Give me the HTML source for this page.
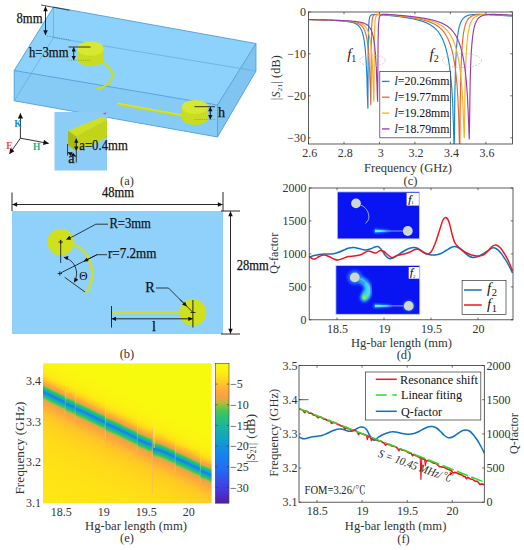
<!DOCTYPE html>
<html lang="en"><head><meta charset="utf-8"><title>Figure</title>
<style>
html,body{margin:0;padding:0;background:#fff;}
body{width:524px;height:550px;overflow:hidden;}
svg{display:block;}
text{font-family:"Liberation Serif","Noto Serif CJK SC",serif;fill:#222;}
.tk{font-size:12px;fill:#333;}
.ax{font-size:12.5px;fill:#333;}
.cap{font-size:12.5px;fill:#333;}
.dim{font-size:14.2px;fill:#111;stroke:#111;stroke-width:0.25px;}
.it{font-style:italic;}
</style></head><body>
<svg width="524" height="550" viewBox="0 0 524 550">
<defs>
<marker id="ah" viewBox="0 0 10 10" refX="9.5" refY="5" markerWidth="7" markerHeight="5" orient="auto-start-reverse" markerUnits="userSpaceOnUse"><path d="M0,0.5 L10,5 L0,9.5 z" fill="#111"/></marker>
<marker id="ahs" viewBox="0 0 10 10" refX="9.5" refY="5" markerWidth="5" markerHeight="4.4" orient="auto-start-reverse" markerUnits="userSpaceOnUse"><path d="M0,0 L10,5 L0,10 z" fill="#111"/></marker>
<marker id="ahb" viewBox="0 0 10 10" refX="9.5" refY="5" markerWidth="8" markerHeight="5.4" orient="auto-start-reverse" markerUnits="userSpaceOnUse"><path d="M0,0 L10,5 L0,10 z" fill="#111"/></marker>
</defs>
<rect x="0" y="0" width="524" height="550" fill="#ffffff"/>
<g id="panel-a">
<polygon points="53.5,7.0 256.0,43.5 256.0,71.0 217.5,137.0 14.2,100.8 14.2,70.5" fill="#86caf6"/>
<polygon points="53.5,7.0 256.0,43.5 217.5,105.0 14.2,70.5" fill="#8dd2fc"/>
<polygon points="256.0,43.5 256.0,71.0 217.5,137.0 217.5,105.0" fill="#80c4f1"/>
<polygon points="14.2,70.5 217.5,105.0 217.5,137.0 14.2,100.8" fill="#86caf6"/>
<line x1="53.5" y1="7" x2="256" y2="43.5" stroke="#4d9bd6" stroke-width="0.8" />
<line x1="256" y1="43.5" x2="217.5" y2="105" stroke="#4d9bd6" stroke-width="0.8" />
<line x1="217.5" y1="105" x2="14.2" y2="70.5" stroke="#4d9bd6" stroke-width="0.8" />
<line x1="14.2" y1="70.5" x2="53.5" y2="7" stroke="#4d9bd6" stroke-width="0.8" />
<line x1="14.2" y1="70.5" x2="14.2" y2="100.8" stroke="#4d9bd6" stroke-width="0.8" />
<line x1="217.5" y1="105" x2="217.5" y2="137" stroke="#4d9bd6" stroke-width="0.8" />
<line x1="256" y1="43.5" x2="256" y2="71" stroke="#4d9bd6" stroke-width="0.8" />
<line x1="14.2" y1="100.8" x2="217.5" y2="137" stroke="#4d9bd6" stroke-width="0.8" />
<line x1="217.5" y1="137" x2="256" y2="71" stroke="#4d9bd6" stroke-width="0.8" />
<line x1="53.5" y1="37.6" x2="256" y2="71" stroke="#5fa9de" stroke-width="0.7" />
<line x1="53.5" y1="7" x2="53.5" y2="37.6" stroke="#5fa9de" stroke-width="0.7" />
<line x1="53.5" y1="37.6" x2="14.2" y2="100.8" stroke="#5fa9de" stroke-width="0.7" />
<rect x="54.5" y="112" width="52.5" height="58.5" fill="#8ccdf8"/>
<path d="M101,62 C107,63.5 112.5,69 112.2,76 C111.8,82 105.5,86.5 97.5,89.2" fill="none" stroke="#c8dc20" stroke-width="2.3" stroke-linecap="round"/>
<path d="M77.3,48.5 L77.3,59.0 A13.2,7.3 0 0 0 103.7,59.0 L103.7,48.5 Z" fill="#c8dc22"/>
<ellipse cx="90.5" cy="48.5" rx="13.2" ry="7.3" fill="#d7e832"/>
<line x1="117.5" y1="104" x2="184" y2="116" stroke="#c8dc20" stroke-width="2.5"/>
<line x1="117.5" y1="103.2" x2="184" y2="115.2" stroke="#dbea45" stroke-width="0.8"/>
<path d="M181.9,107 L181.9,118 A13.1,7 0 0 0 208.1,118 L208.1,107 Z" fill="#c8dc22"/>
<ellipse cx="195" cy="107" rx="13.1" ry="7" fill="#d7e832"/>
<line x1="41" y1="5" x2="69.5" y2="10.2" stroke="#222" stroke-width="0.8"/>
<line x1="45.5" y1="6.5" x2="45.5" y2="35" stroke="#111" stroke-width="0.9" marker-start="url(#ah)" marker-end="url(#ah)"/>
<line x1="47" y1="36" x2="71" y2="40.3" stroke="#667" stroke-width="0.7" stroke-dasharray="1.2,1.2"/>
<text class="dim" x="16.5" y="23.2" textLength="26" lengthAdjust="spacingAndGlyphs">8mm</text>
<line x1="68.5" y1="47" x2="90.5" y2="47" stroke="#222" stroke-width="0.9"/>
<line x1="68.5" y1="60.3" x2="90.5" y2="60.3" stroke="#8a9440" stroke-width="0.7" stroke-dasharray="1.2,1.2"/>
<line x1="73.7" y1="47.4" x2="73.7" y2="60" stroke="#111" stroke-width="0.9" marker-start="url(#ahs)" marker-end="url(#ahs)"/>
<text class="dim" x="29" y="57" textLength="39.5" lengthAdjust="spacingAndGlyphs">h=3mm</text>
<line x1="194.5" y1="106.7" x2="215" y2="106.7" stroke="#222" stroke-width="0.9"/>
<line x1="194.5" y1="119.5" x2="215" y2="119.5" stroke="#8a9440" stroke-width="0.7" stroke-dasharray="1.2,1.2"/>
<line x1="210.3" y1="107.1" x2="210.3" y2="119.2" stroke="#111" stroke-width="0.9" marker-start="url(#ahs)" marker-end="url(#ahs)"/>
<text class="dim" x="218" y="116.8">h</text>
<polygon points="68.0,130.7 103.7,116.2 107.0,120.0 76.2,136.4" fill="#cfe022"/>
<polygon points="76.2,136.4 107.0,120.0 107.0,137.5 76.2,151.3" fill="#c2d418"/>
<polygon points="68.0,130.7 76.2,136.4 76.2,151.3 68.0,145.2" fill="#a9ba14"/>
<polygon points="102.5,113.2 106.5,112.3 105.5,115" fill="#b060d8"/>
<line x1="76.3" y1="138.6" x2="76.3" y2="150.6" stroke="#111" stroke-width="0.9" marker-start="url(#ahs)" marker-end="url(#ahs)"/>
<line x1="67.6" y1="144" x2="67.6" y2="155.5" stroke="#111" stroke-width="0.8"/>
<line x1="76.3" y1="151" x2="76.3" y2="162.5" stroke="#111" stroke-width="0.8"/>
<line x1="67.9" y1="152.3" x2="75.8" y2="156.3" stroke="#111" stroke-width="0.8" marker-start="url(#ahs)" marker-end="url(#ahs)"/>
<text class="dim" x="79.3" y="150.3" textLength="48.5" lengthAdjust="spacingAndGlyphs">a=0.4mm</text>
<text class="dim" x="68.3" y="163.2">a</text>
<line x1="20.4" y1="138.2" x2="20.4" y2="113.4" stroke="#333" stroke-width="1" marker-end="url(#ahb)"/>
<line x1="20.4" y1="138.2" x2="48.6" y2="143.4" stroke="#333" stroke-width="1" marker-end="url(#ahb)"/>
<line x1="20.4" y1="138.2" x2="9.5" y2="153.9" stroke="#333" stroke-width="1" marker-end="url(#ahb)"/>
<text x="14.2" y="126.9" style="font-weight:bold;font-size:9.5px;fill:#1a8fd8">K</text>
<text x="33" y="150.3" style="font-weight:bold;font-size:9.5px;fill:#18b878">H</text>
<text x="6.2" y="148.5" style="font-weight:bold;font-size:9.5px;fill:#f04848">E</text>
<text class="cap" x="127" y="185" text-anchor="middle">(a)</text>
</g>
<g id="panel-b">
<rect x="12" y="211" width="211" height="123" fill="#8fd1fb"/>
<line x1="12" y1="192.5" x2="12" y2="211" stroke="#111" stroke-width="0.9"/>
<line x1="223" y1="192" x2="223" y2="211" stroke="#111" stroke-width="0.9"/>
<line x1="12.4" y1="204.5" x2="222.6" y2="204.5" stroke="#111" stroke-width="0.9" marker-start="url(#ah)" marker-end="url(#ah)"/>
<text class="dim" x="118" y="197.3" text-anchor="middle" textLength="32" lengthAdjust="spacingAndGlyphs">48mm</text>
<line x1="221" y1="211" x2="240" y2="211" stroke="#111" stroke-width="0.9"/>
<line x1="221" y1="334" x2="240" y2="334" stroke="#111" stroke-width="0.9"/>
<line x1="230.5" y1="211.4" x2="230.5" y2="333.6" stroke="#111" stroke-width="0.9" marker-start="url(#ah)" marker-end="url(#ah)"/>
<text class="dim" x="236.8" y="270.4" textLength="32" lengthAdjust="spacingAndGlyphs">28mm</text>
<path d="M74.0,244.4 A32.4,32.4 0 0 1 86.0,292.5" fill="none" stroke="#cfe01e" stroke-width="2.4"/>
<circle cx="60.7" cy="242" r="13.3" fill="#cfe01e"/>
<circle cx="192.9" cy="312.5" r="13.4" fill="#cfe01e"/>
<line x1="111.7" y1="312.4" x2="181" y2="312.4" stroke="#cfe01e" stroke-width="2.4"/>
<path d="M58.5,242 H62.900000000000006 M60.7,239.8 V244.2" stroke="#111" stroke-width="0.8" fill="none"/>
<path d="M57.599999999999994,273.5 H62.0 M59.8,271.3 V275.7" stroke="#111" stroke-width="0.8" fill="none"/>
<line x1="60.7" y1="240" x2="60.7" y2="263" stroke="#111" stroke-width="0.8"/>
<polyline points="108,224.2 95.8,224.2 73.6,236.2" fill="none" stroke="#111" stroke-width="0.8"/>
<line x1="73.6" y1="236.2" x2="66.5" y2="239.4" stroke="#111" stroke-width="0.8" marker-end="url(#ahs)"/>
<text class="dim" x="109.4" y="228" textLength="41.5" lengthAdjust="spacingAndGlyphs">R=3mm</text>
<polyline points="107,254.7 97,254.7 60.5,273" fill="none" stroke="#111" stroke-width="0.8"/>
<line x1="97" y1="254.7" x2="84" y2="261.3" stroke="#111" stroke-width="0.8" marker-end="url(#ahs)"/>
<text class="dim" x="108" y="258.2" textLength="48.5" lengthAdjust="spacingAndGlyphs">r=7.2mm</text>
<path d="M63.9,257.2 A16.8,16.8 0 0 1 74.2,282.2" fill="none" stroke="#111" stroke-width="0.8" marker-start="url(#ahs)" marker-end="url(#ahs)"/>
<line x1="64.7" y1="277.3" x2="85" y2="292" stroke="#111" stroke-width="0.8"/>
<text x="83.5" y="279.7" text-anchor="middle" style="font-size:11.5px;fill:#111">Θ</text>
<line x1="111.5" y1="306" x2="111.5" y2="327.5" stroke="#111" stroke-width="0.9"/>
<line x1="192.9" y1="300" x2="192.9" y2="327.5" stroke="#111" stroke-width="0.9"/>
<path d="M190.5,312.5 H195.5" stroke="#111" stroke-width="0.8"/>
<line x1="111.9" y1="318.8" x2="192.5" y2="318.8" stroke="#111" stroke-width="0.9" marker-start="url(#ahs)" marker-end="url(#ahs)"/>
<text class="dim" x="154" y="331" text-anchor="middle">l</text>
<polyline points="156,288 168.5,288 186,305.5" fill="none" stroke="#111" stroke-width="0.8"/>
<line x1="180" y1="299.5" x2="186.6" y2="306.2" stroke="#111" stroke-width="0.8" marker-end="url(#ahs)"/>
<line x1="186" y1="305.5" x2="192.5" y2="312" stroke="#111" stroke-width="0.8"/>
<text class="dim" x="145.3" y="292.3">R</text>
<text class="cap" x="127" y="358.3" text-anchor="middle">(b)</text>
</g>
<g id="panel-c">
<clipPath id="clipc"><rect x="308.5" y="12.0" width="204.0" height="132.0"/></clipPath>
<g clip-path="url(#clipc)" fill="none" stroke-width="1.15" stroke-linejoin="round">
<path d="M308.5,19.5 L308.7,19.5 L309.0,19.5 L309.2,19.6 L309.4,19.6 L309.6,19.6 L309.9,19.6 L310.1,19.6 L310.3,19.6 L310.5,19.6 L310.8,19.6 L311.0,19.6 L311.2,19.6 L311.4,19.6 L311.7,19.6 L311.9,19.6 L312.1,19.6 L312.4,19.6 L312.6,19.7 L312.8,19.7 L313.0,19.7 L313.3,19.7 L313.5,19.7 L313.7,19.7 L313.9,19.7 L314.2,19.7 L314.4,19.7 L314.6,19.7 L314.8,19.7 L315.1,19.7 L315.3,19.7 L315.5,19.7 L315.8,19.7 L316.0,19.8 L316.2,19.8 L316.4,19.8 L316.7,19.8 L316.9,19.8 L317.1,19.8 L317.3,19.8 L317.6,19.8 L317.8,19.8 L318.0,19.8 L318.2,19.8 L318.5,19.8 L318.7,19.8 L318.9,19.8 L319.2,19.9 L319.4,19.9 L319.6,19.9 L319.8,19.9 L320.1,19.9 L320.3,19.9 L320.5,19.9 L320.7,19.9 L321.0,19.9 L321.2,19.9 L321.4,19.9 L321.6,19.9 L321.9,19.9 L322.1,20.0 L322.3,20.0 L322.6,20.0 L322.8,20.0 L323.0,20.0 L323.2,20.0 L323.5,20.0 L323.7,20.0 L323.9,20.0 L324.1,20.0 L324.4,20.0 L324.6,20.0 L324.8,20.1 L325.0,20.1 L325.3,20.1 L325.5,20.1 L325.7,20.1 L326.0,20.1 L326.2,20.1 L326.4,20.1 L326.6,20.1 L326.9,20.1 L327.1,20.1 L327.3,20.1 L327.5,20.2 L327.8,20.2 L328.0,20.2 L328.2,20.2 L328.4,20.2 L328.7,20.2 L328.9,20.2 L329.1,20.2 L329.4,20.2 L329.6,20.2 L329.8,20.3 L330.0,20.3 L330.3,20.3 L330.5,20.3 L330.7,20.3 L330.9,20.3 L331.2,20.3 L331.4,20.3 L331.6,20.3 L331.8,20.3 L332.1,20.4 L332.3,20.4 L332.5,20.4 L332.8,20.4 L333.0,20.4 L333.2,20.4 L333.4,20.4 L333.7,20.4 L333.9,20.4 L334.1,20.5 L334.3,20.5 L334.6,20.5 L334.8,20.5 L335.0,20.5 L335.2,20.5 L335.5,20.5 L335.7,20.5 L335.9,20.6 L336.2,20.6 L336.4,20.6 L336.6,20.6 L336.8,20.6 L337.1,20.6 L337.3,20.6 L337.5,20.6 L337.7,20.7 L338.0,20.7 L338.2,20.7 L338.4,20.7 L338.6,20.7 L338.9,20.7 L339.1,20.7 L339.3,20.8 L339.6,20.8 L339.8,20.8 L340.0,20.8 L340.2,20.8 L340.5,20.8 L340.7,20.9 L340.9,20.9 L341.1,20.9 L341.4,20.9 L341.6,20.9 L341.8,20.9 L342.0,21.0 L342.3,21.0 L342.5,21.0 L342.7,21.0 L343.0,21.0 L343.2,21.1 L343.4,21.1 L343.6,21.1 L343.9,21.1 L344.1,21.2 L344.3,21.2 L344.5,21.2 L344.8,21.2 L345.0,21.2 L345.2,21.3 L345.4,21.3 L345.7,21.3 L345.9,21.3 L346.1,21.4 L346.4,21.4 L346.6,21.4 L346.8,21.5 L347.0,21.5 L347.3,21.5 L347.5,21.6 L347.7,21.6 L347.9,21.6 L348.2,21.7 L348.4,21.7 L348.6,21.7 L348.8,21.8 L349.1,21.8 L349.3,21.8 L349.5,21.9 L349.8,21.9 L350.0,22.0 L350.2,22.0 L350.4,22.1 L350.7,22.1 L350.9,22.1 L351.1,22.2 L351.3,22.2 L351.6,22.3 L351.8,22.4 L352.0,22.4 L352.2,22.5 L352.5,22.5 L352.7,22.6 L352.9,22.7 L353.2,22.7 L353.4,22.8 L353.6,22.9 L353.8,23.0 L354.1,23.0 L354.3,23.1 L354.5,23.2 L354.7,23.3 L355.0,23.4 L355.2,23.5 L355.4,23.6 L355.6,23.7 L355.9,23.8 L356.1,24.0 L356.3,24.1 L356.6,24.2 L356.8,24.4 L357.0,24.5 L357.2,24.7 L357.5,24.8 L357.7,25.0 L357.9,25.2 L358.1,25.4 L358.4,25.6 L358.6,25.8 L358.8,26.0 L359.0,26.3 L359.3,26.5 L359.5,26.8 L359.7,27.1 L360.0,27.4 L360.2,27.7 L360.4,28.1 L360.6,28.5 L360.9,28.9 L361.1,29.3 L361.3,29.8 L361.5,30.3 L361.8,30.9 L362.0,31.4 L362.2,32.1 L362.4,32.8 L362.7,33.6 L362.9,34.4 L363.1,35.3 L363.4,36.3 L363.6,37.3 L363.8,38.5 L364.0,39.8 L364.3,41.2 L364.5,42.8 L364.7,44.6 L364.9,46.5 L365.2,48.7 L365.4,51.1 L365.6,53.8 L365.8,56.8 L366.1,60.3 L366.3,64.3 L366.5,68.8 L366.8,74.1 L367.0,80.3 L367.2,87.5 L367.4,95.6 L367.7,103.6 L367.9,108.2 L368.1,65.1 L368.3,41.5 L368.6,30.6 L368.8,24.9 L369.0,21.5 L369.2,19.5 L369.5,18.1 L369.7,17.2 L369.9,16.5 L370.2,16.1 L370.4,15.7 L370.6,15.5 L370.8,15.3 L371.1,15.1 L371.3,15.0 L371.5,14.9 L371.7,14.8 L372.0,14.7 L372.2,14.7 L372.4,14.6 L372.6,14.6 L372.9,14.5 L373.1,14.5 L373.3,14.5 L373.6,14.5 L373.8,14.5 L374.0,14.5 L374.2,14.5 L374.5,14.5 L374.7,14.5 L374.9,14.5 L375.1,14.5 L375.4,14.5 L375.6,14.5 L375.8,14.5 L376.0,14.5 L376.3,14.5 L376.5,14.5 L376.7,14.5 L377.0,14.5 L377.2,14.5 L377.4,14.6 L377.6,14.6 L377.9,14.6 L378.1,14.6 L378.3,14.6 L378.5,14.6 L378.8,14.6 L379.0,14.6 L379.2,14.7 L379.4,14.7 L379.7,14.7 L379.9,14.7 L380.1,14.7 L380.4,14.7 L380.6,14.8 L380.8,14.8 L381.0,14.8 L381.3,14.8 L381.5,14.8 L381.7,14.8 L381.9,14.9 L382.2,14.9 L382.4,14.9 L382.6,14.9 L382.8,14.9 L383.1,14.9 L383.3,15.0 L383.5,15.0 L383.8,15.0 L384.0,15.0 L384.2,15.0 L384.4,15.1 L384.7,15.1 L384.9,15.1 L385.1,15.1 L385.3,15.1 L385.6,15.2 L385.8,15.2 L386.0,15.2 L386.2,15.2 L386.5,15.2 L386.7,15.3 L386.9,15.3 L387.2,15.3 L387.4,15.3 L387.6,15.3 L387.8,15.4 L388.1,15.4 L388.3,15.4 L388.5,15.4 L388.7,15.5 L389.0,15.5 L389.2,15.5 L389.4,15.5 L389.6,15.5 L389.9,15.6 L390.1,15.6 L390.3,15.6 L390.6,15.6 L390.8,15.7 L391.0,15.7 L391.2,15.7 L391.5,15.7 L391.7,15.8 L391.9,15.8 L392.1,15.8 L392.4,15.8 L392.6,15.8 L392.8,15.9 L393.0,15.9 L393.3,15.9 L393.5,15.9 L393.7,16.0 L394.0,16.0 L394.2,16.0 L394.4,16.0 L394.6,16.1 L394.9,16.1 L395.1,16.1 L395.3,16.1 L395.5,16.2 L395.8,16.2 L396.0,16.2 L396.2,16.3 L396.4,16.3 L396.7,16.3 L396.9,16.3 L397.1,16.4 L397.4,16.4 L397.6,16.4 L397.8,16.4 L398.0,16.5 L398.3,16.5 L398.5,16.5 L398.7,16.6 L398.9,16.6 L399.2,16.6 L399.4,16.6 L399.6,16.7 L399.8,16.7 L400.1,16.7 L400.3,16.8 L400.5,16.8 L400.8,16.8 L401.0,16.9 L401.2,16.9 L401.4,16.9 L401.7,16.9 L401.9,17.0 L402.1,17.0 L402.3,17.0 L402.6,17.1 L402.8,17.1 L403.0,17.1 L403.2,17.2 L403.5,17.2 L403.7,17.2 L403.9,17.3 L404.2,17.3 L404.4,17.3 L404.6,17.4 L404.8,17.4 L405.1,17.4 L405.3,17.5 L405.5,17.5 L405.7,17.5 L406.0,17.6 L406.2,17.6 L406.4,17.7 L406.6,17.7 L406.9,17.7 L407.1,17.8 L407.3,17.8 L407.6,17.8 L407.8,17.9 L408.0,17.9 L408.2,18.0 L408.5,18.0 L408.7,18.0 L408.9,18.1 L409.1,18.1 L409.4,18.1 L409.6,18.2 L409.8,18.2 L410.0,18.3 L410.3,18.3 L410.5,18.4 L410.7,18.4 L411.0,18.4 L411.2,18.5 L411.4,18.5 L411.6,18.6 L411.9,18.6 L412.1,18.7 L412.3,18.7 L412.5,18.8 L412.8,18.8 L413.0,18.8 L413.2,18.9 L413.4,18.9 L413.7,19.0 L413.9,19.0 L414.1,19.1 L414.4,19.1 L414.6,19.2 L414.8,19.2 L415.0,19.3 L415.3,19.3 L415.5,19.4 L415.7,19.4 L415.9,19.5 L416.2,19.6 L416.4,19.6 L416.6,19.7 L416.8,19.7 L417.1,19.8 L417.3,19.8 L417.5,19.9 L417.8,19.9 L418.0,20.0 L418.2,20.1 L418.4,20.1 L418.7,20.2 L418.9,20.2 L419.1,20.3 L419.3,20.4 L419.6,20.4 L419.8,20.5 L420.0,20.6 L420.2,20.6 L420.5,20.7 L420.7,20.8 L420.9,20.8 L421.2,20.9 L421.4,21.0 L421.6,21.1 L421.8,21.1 L422.1,21.2 L422.3,21.3 L422.5,21.4 L422.7,21.4 L423.0,21.5 L423.2,21.6 L423.4,21.7 L423.6,21.8 L423.9,21.8 L424.1,21.9 L424.3,22.0 L424.6,22.1 L424.8,22.2 L425.0,22.3 L425.2,22.4 L425.5,22.5 L425.7,22.5 L425.9,22.6 L426.1,22.7 L426.4,22.8 L426.6,22.9 L426.8,23.0 L427.0,23.1 L427.3,23.2 L427.5,23.4 L427.7,23.5 L428.0,23.6 L428.2,23.7 L428.4,23.8 L428.6,23.9 L428.9,24.0 L429.1,24.2 L429.3,24.3 L429.5,24.4 L429.8,24.5 L430.0,24.7 L430.2,24.8 L430.4,24.9 L430.7,25.1 L430.9,25.2 L431.1,25.4 L431.4,25.5 L431.6,25.6 L431.8,25.8 L432.0,26.0 L432.3,26.1 L432.5,26.3 L432.7,26.4 L432.9,26.6 L433.2,26.8 L433.4,27.0 L433.6,27.1 L433.8,27.3 L434.1,27.5 L434.3,27.7 L434.5,27.9 L434.8,28.1 L435.0,28.3 L435.2,28.5 L435.4,28.7 L435.7,28.9 L435.9,29.2 L436.1,29.4 L436.3,29.6 L436.6,29.9 L436.8,30.1 L437.0,30.4 L437.2,30.6 L437.5,30.9 L437.7,31.1 L437.9,31.4 L438.2,31.7 L438.4,32.0 L438.6,32.3 L438.8,32.6 L439.1,32.9 L439.3,33.2 L439.5,33.6 L439.7,33.9 L440.0,34.3 L440.2,34.6 L440.4,35.0 L440.6,35.4 L440.9,35.8 L441.1,36.2 L441.3,36.6 L441.6,37.0 L441.8,37.5 L442.0,37.9 L442.2,38.4 L442.5,38.9 L442.7,39.4 L442.9,39.9 L443.1,40.4 L443.4,41.0 L443.6,41.5 L443.8,42.1 L444.0,42.7 L444.3,43.3 L444.5,44.0 L444.7,44.6 L445.0,45.3 L445.2,46.0 L445.4,46.7 L445.6,47.5 L445.9,48.3 L446.1,49.1 L446.3,50.0 L446.5,50.8 L446.8,51.8 L447.0,52.7 L447.2,53.7 L447.4,54.7 L447.7,55.8 L447.9,56.9 L448.1,58.1 L448.4,59.3 L448.6,60.6 L448.8,62.0 L449.0,63.4 L449.3,64.8 L449.5,66.4 L449.7,68.0 L449.9,69.8 L450.2,71.6 L450.4,73.6 L450.6,75.6 L450.8,77.8 L451.1,80.2 L451.3,82.8 L451.5,85.5 L451.8,88.5 L452.0,91.8 L452.2,95.4 L452.4,99.4 L452.7,103.9 L452.9,109.0 L453.1,114.9 L453.3,121.8 L453.6,130.2 L453.8,140.3 L454.0,145.4 L454.2,145.4 L454.5,134.4 L454.7,107.5 L454.9,91.5 L455.2,80.5 L455.4,72.1 L455.6,65.4 L455.8,60.0 L456.1,55.3 L456.3,51.4 L456.5,47.9 L456.7,44.9 L457.0,42.3 L457.2,39.9 L457.4,37.8 L457.6,36.0 L457.9,34.3 L458.1,32.7 L458.3,31.4 L458.6,30.1 L458.8,29.0 L459.0,27.9 L459.2,27.0 L459.5,26.1 L459.7,25.3 L459.9,24.6 L460.1,23.9 L460.4,23.3 L460.6,22.7 L460.8,22.2 L461.0,21.7 L461.3,21.2 L461.5,20.8 L461.7,20.4 L462.0,20.1 L462.2,19.7 L462.4,19.4 L462.6,19.1 L462.9,18.8 L463.1,18.6 L463.3,18.3 L463.5,18.1 L463.8,17.9 L464.0,17.7 L464.2,17.5 L464.4,17.3 L464.7,17.1 L464.9,17.0 L465.1,16.8 L465.4,16.7 L465.6,16.5 L465.8,16.4 L466.0,16.3 L466.3,16.2 L466.5,16.0 L466.7,15.9 L466.9,15.8 L467.2,15.7 L467.4,15.6 L467.6,15.6 L467.8,15.5 L468.1,15.4 L468.3,15.3 L468.5,15.2 L468.8,15.2 L469.0,15.1 L469.2,15.1 L469.4,15.0 L469.7,15.0 L469.9,15.0 L470.1,14.9 L470.3,14.9 L470.6,14.9 L470.8,14.8 L471.0,14.8 L471.2,14.8 L471.5,14.7 L471.7,14.7 L471.9,14.7 L472.2,14.7 L472.4,14.6 L472.6,14.6 L472.8,14.6 L473.1,14.6 L473.3,14.6 L473.5,14.6 L473.7,14.5 L474.0,14.5 L474.2,14.5 L474.4,14.5 L474.6,14.5 L474.9,14.5 L475.1,14.5 L475.3,14.5 L475.6,14.5 L475.8,14.5 L476.0,14.4 L476.2,14.4 L476.5,14.4 L476.7,14.4 L476.9,14.4 L477.1,14.4 L477.4,14.4 L477.6,14.4 L477.8,14.4 L478.0,14.4 L478.3,14.4 L478.5,14.4 L478.7,14.4 L479.0,14.4 L479.2,14.4 L479.4,14.4 L479.6,14.4 L479.9,14.4 L480.1,14.4 L480.3,14.4 L480.5,14.4 L480.8,14.4 L481.0,14.4 L481.2,14.5 L481.4,14.5 L481.7,14.5 L481.9,14.5 L482.1,14.5 L482.4,14.5 L482.6,14.5 L482.8,14.5 L483.0,14.5 L483.3,14.5 L483.5,14.5 L483.7,14.5 L483.9,14.5 L484.2,14.5 L484.4,14.5 L484.6,14.5 L484.8,14.6 L485.1,14.6 L485.3,14.6 L485.5,14.6 L485.8,14.6 L486.0,14.6 L486.2,14.6 L486.4,14.6 L486.7,14.6 L486.9,14.6 L487.1,14.6 L487.3,14.7 L487.6,14.7 L487.8,14.7 L488.0,14.7 L488.2,14.7 L488.5,14.7 L488.7,14.7 L488.9,14.7 L489.2,14.7 L489.4,14.7 L489.6,14.8 L489.8,14.8 L490.1,14.8 L490.3,14.8 L490.5,14.8 L490.7,14.8 L491.0,14.8 L491.2,14.8 L491.4,14.8 L491.6,14.9 L491.9,14.9 L492.1,14.9 L492.3,14.9 L492.6,14.9 L492.8,14.9 L493.0,14.9 L493.2,14.9 L493.5,15.0 L493.7,15.0 L493.9,15.0 L494.1,15.0 L494.4,15.0 L494.6,15.0 L494.8,15.0 L495.0,15.0 L495.3,15.1 L495.5,15.1 L495.7,15.1 L496.0,15.1 L496.2,15.1 L496.4,15.1 L496.6,15.1 L496.9,15.1 L497.1,15.2 L497.3,15.2 L497.5,15.2 L497.8,15.2 L498.0,15.2 L498.2,15.2 L498.4,15.2 L498.7,15.3 L498.9,15.3 L499.1,15.3 L499.4,15.3 L499.6,15.3 L499.8,15.3 L500.0,15.3 L500.3,15.3 L500.5,15.4 L500.7,15.4 L500.9,15.4 L501.2,15.4 L501.4,15.4 L501.6,15.4 L501.8,15.4 L502.1,15.5 L502.3,15.5 L502.5,15.5 L502.8,15.5 L503.0,15.5 L503.2,15.5 L503.4,15.5 L503.7,15.6 L503.9,15.6 L504.1,15.6 L504.3,15.6 L504.6,15.6 L504.8,15.6 L505.0,15.6 L505.2,15.7 L505.5,15.7 L505.7,15.7 L505.9,15.7 L506.2,15.7 L506.4,15.7 L506.6,15.7 L506.8,15.8 L507.1,15.8 L507.3,15.8 L507.5,15.8 L507.7,15.8 L508.0,15.8 L508.2,15.8 L508.4,15.9 L508.6,15.9 L508.9,15.9 L509.1,15.9 L509.3,15.9 L509.6,15.9 L509.8,15.9 L510.0,16.0 L510.2,16.0 L510.5,16.0 L510.7,16.0 L510.9,16.0 L511.1,16.0 L511.4,16.1 L511.6,16.1 L511.8,16.1 L512.0,16.1 L512.3,16.1 L512.5,16.1" stroke="#0c8ad8"/>
<path d="M308.5,19.5 L308.7,19.5 L309.0,19.5 L309.2,19.5 L309.4,19.5 L309.6,19.5 L309.9,19.5 L310.1,19.5 L310.3,19.6 L310.5,19.6 L310.8,19.6 L311.0,19.6 L311.2,19.6 L311.4,19.6 L311.7,19.6 L311.9,19.6 L312.1,19.6 L312.4,19.6 L312.6,19.6 L312.8,19.6 L313.0,19.6 L313.3,19.6 L313.5,19.6 L313.7,19.6 L313.9,19.7 L314.2,19.7 L314.4,19.7 L314.6,19.7 L314.8,19.7 L315.1,19.7 L315.3,19.7 L315.5,19.7 L315.8,19.7 L316.0,19.7 L316.2,19.7 L316.4,19.7 L316.7,19.7 L316.9,19.7 L317.1,19.7 L317.3,19.8 L317.6,19.8 L317.8,19.8 L318.0,19.8 L318.2,19.8 L318.5,19.8 L318.7,19.8 L318.9,19.8 L319.2,19.8 L319.4,19.8 L319.6,19.8 L319.8,19.8 L320.1,19.8 L320.3,19.8 L320.5,19.9 L320.7,19.9 L321.0,19.9 L321.2,19.9 L321.4,19.9 L321.6,19.9 L321.9,19.9 L322.1,19.9 L322.3,19.9 L322.6,19.9 L322.8,19.9 L323.0,19.9 L323.2,19.9 L323.5,19.9 L323.7,20.0 L323.9,20.0 L324.1,20.0 L324.4,20.0 L324.6,20.0 L324.8,20.0 L325.0,20.0 L325.3,20.0 L325.5,20.0 L325.7,20.0 L326.0,20.0 L326.2,20.0 L326.4,20.0 L326.6,20.1 L326.9,20.1 L327.1,20.1 L327.3,20.1 L327.5,20.1 L327.8,20.1 L328.0,20.1 L328.2,20.1 L328.4,20.1 L328.7,20.1 L328.9,20.1 L329.1,20.1 L329.4,20.2 L329.6,20.2 L329.8,20.2 L330.0,20.2 L330.3,20.2 L330.5,20.2 L330.7,20.2 L330.9,20.2 L331.2,20.2 L331.4,20.2 L331.6,20.2 L331.8,20.3 L332.1,20.3 L332.3,20.3 L332.5,20.3 L332.8,20.3 L333.0,20.3 L333.2,20.3 L333.4,20.3 L333.7,20.3 L333.9,20.3 L334.1,20.4 L334.3,20.4 L334.6,20.4 L334.8,20.4 L335.0,20.4 L335.2,20.4 L335.5,20.4 L335.7,20.4 L335.9,20.4 L336.2,20.4 L336.4,20.5 L336.6,20.5 L336.8,20.5 L337.1,20.5 L337.3,20.5 L337.5,20.5 L337.7,20.5 L338.0,20.5 L338.2,20.6 L338.4,20.6 L338.6,20.6 L338.9,20.6 L339.1,20.6 L339.3,20.6 L339.6,20.6 L339.8,20.6 L340.0,20.7 L340.2,20.7 L340.5,20.7 L340.7,20.7 L340.9,20.7 L341.1,20.7 L341.4,20.7 L341.6,20.8 L341.8,20.8 L342.0,20.8 L342.3,20.8 L342.5,20.8 L342.7,20.8 L343.0,20.8 L343.2,20.9 L343.4,20.9 L343.6,20.9 L343.9,20.9 L344.1,20.9 L344.3,20.9 L344.5,21.0 L344.8,21.0 L345.0,21.0 L345.2,21.0 L345.4,21.0 L345.7,21.1 L345.9,21.1 L346.1,21.1 L346.4,21.1 L346.6,21.1 L346.8,21.2 L347.0,21.2 L347.3,21.2 L347.5,21.2 L347.7,21.3 L347.9,21.3 L348.2,21.3 L348.4,21.3 L348.6,21.4 L348.8,21.4 L349.1,21.4 L349.3,21.4 L349.5,21.5 L349.8,21.5 L350.0,21.5 L350.2,21.6 L350.4,21.6 L350.7,21.6 L350.9,21.6 L351.1,21.7 L351.3,21.7 L351.6,21.7 L351.8,21.8 L352.0,21.8 L352.2,21.9 L352.5,21.9 L352.7,21.9 L352.9,22.0 L353.2,22.0 L353.4,22.1 L353.6,22.1 L353.8,22.2 L354.1,22.2 L354.3,22.3 L354.5,22.3 L354.7,22.4 L355.0,22.4 L355.2,22.5 L355.4,22.6 L355.6,22.6 L355.9,22.7 L356.1,22.7 L356.3,22.8 L356.6,22.9 L356.8,23.0 L357.0,23.0 L357.2,23.1 L357.5,23.2 L357.7,23.3 L357.9,23.4 L358.1,23.5 L358.4,23.6 L358.6,23.7 L358.8,23.8 L359.0,23.9 L359.3,24.1 L359.5,24.2 L359.7,24.3 L360.0,24.5 L360.2,24.6 L360.4,24.8 L360.6,25.0 L360.9,25.1 L361.1,25.3 L361.3,25.5 L361.5,25.7 L361.8,26.0 L362.0,26.2 L362.2,26.5 L362.4,26.7 L362.7,27.0 L362.9,27.3 L363.1,27.6 L363.4,28.0 L363.6,28.4 L363.8,28.8 L364.0,29.2 L364.3,29.7 L364.5,30.2 L364.7,30.7 L364.9,31.3 L365.2,31.9 L365.4,32.6 L365.6,33.3 L365.8,34.1 L366.1,35.0 L366.3,35.9 L366.5,37.0 L366.8,38.1 L367.0,39.4 L367.2,40.8 L367.4,42.3 L367.7,44.0 L367.9,45.8 L368.1,47.9 L368.3,50.2 L368.6,52.8 L368.8,55.7 L369.0,59.0 L369.2,62.8 L369.5,67.1 L369.7,72.0 L369.9,77.7 L370.2,84.3 L370.4,91.8 L370.6,99.3 L370.8,104.7 L371.1,77.1 L371.3,46.5 L371.5,33.1 L371.7,26.2 L372.0,22.3 L372.2,19.9 L372.4,18.4 L372.6,17.4 L372.9,16.7 L373.1,16.2 L373.3,15.8 L373.6,15.5 L373.8,15.3 L374.0,15.1 L374.2,15.0 L374.5,14.8 L374.7,14.8 L374.9,14.7 L375.1,14.6 L375.4,14.6 L375.6,14.5 L375.8,14.5 L376.0,14.5 L376.3,14.5 L376.5,14.4 L376.7,14.4 L377.0,14.4 L377.2,14.4 L377.4,14.4 L377.6,14.4 L377.9,14.4 L378.1,14.4 L378.3,14.4 L378.5,14.4 L378.8,14.4 L379.0,14.4 L379.2,14.4 L379.4,14.4 L379.7,14.5 L379.9,14.5 L380.1,14.5 L380.4,14.5 L380.6,14.5 L380.8,14.5 L381.0,14.5 L381.3,14.5 L381.5,14.5 L381.7,14.6 L381.9,14.6 L382.2,14.6 L382.4,14.6 L382.6,14.6 L382.8,14.6 L383.1,14.6 L383.3,14.7 L383.5,14.7 L383.8,14.7 L384.0,14.7 L384.2,14.7 L384.4,14.7 L384.7,14.8 L384.9,14.8 L385.1,14.8 L385.3,14.8 L385.6,14.8 L385.8,14.8 L386.0,14.9 L386.2,14.9 L386.5,14.9 L386.7,14.9 L386.9,14.9 L387.2,14.9 L387.4,15.0 L387.6,15.0 L387.8,15.0 L388.1,15.0 L388.3,15.0 L388.5,15.1 L388.7,15.1 L389.0,15.1 L389.2,15.1 L389.4,15.1 L389.6,15.2 L389.9,15.2 L390.1,15.2 L390.3,15.2 L390.6,15.2 L390.8,15.2 L391.0,15.3 L391.2,15.3 L391.5,15.3 L391.7,15.3 L391.9,15.4 L392.1,15.4 L392.4,15.4 L392.6,15.4 L392.8,15.4 L393.0,15.5 L393.3,15.5 L393.5,15.5 L393.7,15.5 L394.0,15.5 L394.2,15.6 L394.4,15.6 L394.6,15.6 L394.9,15.6 L395.1,15.7 L395.3,15.7 L395.5,15.7 L395.8,15.7 L396.0,15.7 L396.2,15.8 L396.4,15.8 L396.7,15.8 L396.9,15.8 L397.1,15.9 L397.4,15.9 L397.6,15.9 L397.8,15.9 L398.0,16.0 L398.3,16.0 L398.5,16.0 L398.7,16.0 L398.9,16.1 L399.2,16.1 L399.4,16.1 L399.6,16.1 L399.8,16.2 L400.1,16.2 L400.3,16.2 L400.5,16.2 L400.8,16.3 L401.0,16.3 L401.2,16.3 L401.4,16.3 L401.7,16.4 L401.9,16.4 L402.1,16.4 L402.3,16.4 L402.6,16.5 L402.8,16.5 L403.0,16.5 L403.2,16.5 L403.5,16.6 L403.7,16.6 L403.9,16.6 L404.2,16.7 L404.4,16.7 L404.6,16.7 L404.8,16.7 L405.1,16.8 L405.3,16.8 L405.5,16.8 L405.7,16.9 L406.0,16.9 L406.2,16.9 L406.4,17.0 L406.6,17.0 L406.9,17.0 L407.1,17.0 L407.3,17.1 L407.6,17.1 L407.8,17.1 L408.0,17.2 L408.2,17.2 L408.5,17.2 L408.7,17.3 L408.9,17.3 L409.1,17.3 L409.4,17.4 L409.6,17.4 L409.8,17.4 L410.0,17.5 L410.3,17.5 L410.5,17.5 L410.7,17.6 L411.0,17.6 L411.2,17.6 L411.4,17.7 L411.6,17.7 L411.9,17.7 L412.1,17.8 L412.3,17.8 L412.5,17.9 L412.8,17.9 L413.0,17.9 L413.2,18.0 L413.4,18.0 L413.7,18.0 L413.9,18.1 L414.1,18.1 L414.4,18.2 L414.6,18.2 L414.8,18.2 L415.0,18.3 L415.3,18.3 L415.5,18.4 L415.7,18.4 L415.9,18.4 L416.2,18.5 L416.4,18.5 L416.6,18.6 L416.8,18.6 L417.1,18.7 L417.3,18.7 L417.5,18.7 L417.8,18.8 L418.0,18.8 L418.2,18.9 L418.4,18.9 L418.7,19.0 L418.9,19.0 L419.1,19.1 L419.3,19.1 L419.6,19.2 L419.8,19.2 L420.0,19.3 L420.2,19.3 L420.5,19.4 L420.7,19.4 L420.9,19.5 L421.2,19.5 L421.4,19.6 L421.6,19.6 L421.8,19.7 L422.1,19.7 L422.3,19.8 L422.5,19.8 L422.7,19.9 L423.0,20.0 L423.2,20.0 L423.4,20.1 L423.6,20.1 L423.9,20.2 L424.1,20.3 L424.3,20.3 L424.6,20.4 L424.8,20.4 L425.0,20.5 L425.2,20.6 L425.5,20.6 L425.7,20.7 L425.9,20.8 L426.1,20.8 L426.4,20.9 L426.6,21.0 L426.8,21.0 L427.0,21.1 L427.3,21.2 L427.5,21.3 L427.7,21.3 L428.0,21.4 L428.2,21.5 L428.4,21.6 L428.6,21.6 L428.9,21.7 L429.1,21.8 L429.3,21.9 L429.5,22.0 L429.8,22.1 L430.0,22.1 L430.2,22.2 L430.4,22.3 L430.7,22.4 L430.9,22.5 L431.1,22.6 L431.4,22.7 L431.6,22.8 L431.8,22.9 L432.0,23.0 L432.3,23.1 L432.5,23.2 L432.7,23.3 L432.9,23.4 L433.2,23.5 L433.4,23.6 L433.6,23.7 L433.8,23.8 L434.1,24.0 L434.3,24.1 L434.5,24.2 L434.8,24.3 L435.0,24.4 L435.2,24.6 L435.4,24.7 L435.7,24.8 L435.9,25.0 L436.1,25.1 L436.3,25.2 L436.6,25.4 L436.8,25.5 L437.0,25.7 L437.2,25.8 L437.5,26.0 L437.7,26.1 L437.9,26.3 L438.2,26.5 L438.4,26.6 L438.6,26.8 L438.8,27.0 L439.1,27.1 L439.3,27.3 L439.5,27.5 L439.7,27.7 L440.0,27.9 L440.2,28.1 L440.4,28.3 L440.6,28.5 L440.9,28.7 L441.1,28.9 L441.3,29.1 L441.6,29.4 L441.8,29.6 L442.0,29.8 L442.2,30.1 L442.5,30.3 L442.7,30.6 L442.9,30.9 L443.1,31.1 L443.4,31.4 L443.6,31.7 L443.8,32.0 L444.0,32.3 L444.3,32.6 L444.5,32.9 L444.7,33.2 L445.0,33.5 L445.2,33.9 L445.4,34.2 L445.6,34.6 L445.9,34.9 L446.1,35.3 L446.3,35.7 L446.5,36.1 L446.8,36.5 L447.0,37.0 L447.2,37.4 L447.4,37.8 L447.7,38.3 L447.9,38.8 L448.1,39.3 L448.4,39.8 L448.6,40.3 L448.8,40.8 L449.0,41.4 L449.3,42.0 L449.5,42.6 L449.7,43.2 L449.9,43.8 L450.2,44.5 L450.4,45.2 L450.6,45.9 L450.8,46.6 L451.1,47.3 L451.3,48.1 L451.5,48.9 L451.8,49.8 L452.0,50.6 L452.2,51.5 L452.4,52.5 L452.7,53.5 L452.9,54.5 L453.1,55.5 L453.3,56.7 L453.6,57.8 L453.8,59.0 L454.0,60.3 L454.2,61.6 L454.5,63.0 L454.7,64.5 L454.9,66.0 L455.2,67.6 L455.4,69.3 L455.6,71.1 L455.8,73.0 L456.1,75.1 L456.3,77.3 L456.5,79.6 L456.7,82.1 L457.0,84.8 L457.2,87.7 L457.4,90.9 L457.6,94.4 L457.9,98.3 L458.1,102.7 L458.3,107.6 L458.6,113.3 L458.8,119.9 L459.0,127.8 L459.2,137.5 L459.5,145.4 L459.7,145.4 L459.9,144.3 L460.1,113.0 L460.4,95.1 L460.6,83.0 L460.8,74.1 L461.0,67.0 L461.3,61.3 L461.5,56.5 L461.7,52.4 L462.0,48.8 L462.2,45.7 L462.4,42.9 L462.6,40.5 L462.9,38.4 L463.1,36.4 L463.3,34.7 L463.5,33.1 L463.8,31.7 L464.0,30.4 L464.2,29.3 L464.4,28.2 L464.7,27.2 L464.9,26.3 L465.1,25.5 L465.4,24.8 L465.6,24.1 L465.8,23.5 L466.0,22.9 L466.3,22.3 L466.5,21.8 L466.7,21.4 L466.9,20.9 L467.2,20.5 L467.4,20.2 L467.6,19.8 L467.8,19.5 L468.1,19.2 L468.3,18.9 L468.5,18.6 L468.8,18.4 L469.0,18.1 L469.2,17.9 L469.4,17.7 L469.7,17.5 L469.9,17.3 L470.1,17.2 L470.3,17.0 L470.6,16.8 L470.8,16.7 L471.0,16.6 L471.2,16.4 L471.5,16.3 L471.7,16.2 L471.9,16.1 L472.2,16.0 L472.4,15.9 L472.6,15.8 L472.8,15.7 L473.1,15.6 L473.3,15.5 L473.5,15.4 L473.7,15.3 L474.0,15.3 L474.2,15.2 L474.4,15.2 L474.6,15.1 L474.9,15.1 L475.1,15.0 L475.3,15.0 L475.6,14.9 L475.8,14.9 L476.0,14.9 L476.2,14.8 L476.5,14.8 L476.7,14.8 L476.9,14.7 L477.1,14.7 L477.4,14.7 L477.6,14.7 L477.8,14.6 L478.0,14.6 L478.3,14.6 L478.5,14.6 L478.7,14.6 L479.0,14.6 L479.2,14.5 L479.4,14.5 L479.6,14.5 L479.9,14.5 L480.1,14.5 L480.3,14.5 L480.5,14.5 L480.8,14.5 L481.0,14.5 L481.2,14.5 L481.4,14.5 L481.7,14.4 L481.9,14.4 L482.1,14.4 L482.4,14.4 L482.6,14.4 L482.8,14.4 L483.0,14.4 L483.3,14.4 L483.5,14.4 L483.7,14.4 L483.9,14.4 L484.2,14.4 L484.4,14.4 L484.6,14.4 L484.8,14.4 L485.1,14.4 L485.3,14.4 L485.5,14.4 L485.8,14.4 L486.0,14.4 L486.2,14.4 L486.4,14.4 L486.7,14.5 L486.9,14.5 L487.1,14.5 L487.3,14.5 L487.6,14.5 L487.8,14.5 L488.0,14.5 L488.2,14.5 L488.5,14.5 L488.7,14.5 L488.9,14.5 L489.2,14.5 L489.4,14.5 L489.6,14.5 L489.8,14.5 L490.1,14.5 L490.3,14.6 L490.5,14.6 L490.7,14.6 L491.0,14.6 L491.2,14.6 L491.4,14.6 L491.6,14.6 L491.9,14.6 L492.1,14.6 L492.3,14.6 L492.6,14.6 L492.8,14.7 L493.0,14.7 L493.2,14.7 L493.5,14.7 L493.7,14.7 L493.9,14.7 L494.1,14.7 L494.4,14.7 L494.6,14.7 L494.8,14.7 L495.0,14.8 L495.3,14.8 L495.5,14.8 L495.7,14.8 L496.0,14.8 L496.2,14.8 L496.4,14.8 L496.6,14.8 L496.9,14.8 L497.1,14.9 L497.3,14.9 L497.5,14.9 L497.8,14.9 L498.0,14.9 L498.2,14.9 L498.4,14.9 L498.7,14.9 L498.9,15.0 L499.1,15.0 L499.4,15.0 L499.6,15.0 L499.8,15.0 L500.0,15.0 L500.3,15.0 L500.5,15.0 L500.7,15.1 L500.9,15.1 L501.2,15.1 L501.4,15.1 L501.6,15.1 L501.8,15.1 L502.1,15.1 L502.3,15.1 L502.5,15.2 L502.8,15.2 L503.0,15.2 L503.2,15.2 L503.4,15.2 L503.7,15.2 L503.9,15.2 L504.1,15.3 L504.3,15.3 L504.6,15.3 L504.8,15.3 L505.0,15.3 L505.2,15.3 L505.5,15.3 L505.7,15.3 L505.9,15.4 L506.2,15.4 L506.4,15.4 L506.6,15.4 L506.8,15.4 L507.1,15.4 L507.3,15.4 L507.5,15.5 L507.7,15.5 L508.0,15.5 L508.2,15.5 L508.4,15.5 L508.6,15.5 L508.9,15.5 L509.1,15.6 L509.3,15.6 L509.6,15.6 L509.8,15.6 L510.0,15.6 L510.2,15.6 L510.5,15.6 L510.7,15.7 L510.9,15.7 L511.1,15.7 L511.4,15.7 L511.6,15.7 L511.8,15.7 L512.0,15.7 L512.3,15.8 L512.5,15.8" stroke="#f0652a"/>
<path d="M308.5,19.5 L308.7,19.5 L309.0,19.5 L309.2,19.5 L309.4,19.5 L309.6,19.5 L309.9,19.5 L310.1,19.5 L310.3,19.5 L310.5,19.5 L310.8,19.5 L311.0,19.5 L311.2,19.6 L311.4,19.6 L311.7,19.6 L311.9,19.6 L312.1,19.6 L312.4,19.6 L312.6,19.6 L312.8,19.6 L313.0,19.6 L313.3,19.6 L313.5,19.6 L313.7,19.6 L313.9,19.6 L314.2,19.6 L314.4,19.6 L314.6,19.6 L314.8,19.7 L315.1,19.7 L315.3,19.7 L315.5,19.7 L315.8,19.7 L316.0,19.7 L316.2,19.7 L316.4,19.7 L316.7,19.7 L316.9,19.7 L317.1,19.7 L317.3,19.7 L317.6,19.7 L317.8,19.7 L318.0,19.7 L318.2,19.7 L318.5,19.8 L318.7,19.8 L318.9,19.8 L319.2,19.8 L319.4,19.8 L319.6,19.8 L319.8,19.8 L320.1,19.8 L320.3,19.8 L320.5,19.8 L320.7,19.8 L321.0,19.8 L321.2,19.8 L321.4,19.8 L321.6,19.8 L321.9,19.9 L322.1,19.9 L322.3,19.9 L322.6,19.9 L322.8,19.9 L323.0,19.9 L323.2,19.9 L323.5,19.9 L323.7,19.9 L323.9,19.9 L324.1,19.9 L324.4,19.9 L324.6,19.9 L324.8,19.9 L325.0,20.0 L325.3,20.0 L325.5,20.0 L325.7,20.0 L326.0,20.0 L326.2,20.0 L326.4,20.0 L326.6,20.0 L326.9,20.0 L327.1,20.0 L327.3,20.0 L327.5,20.0 L327.8,20.0 L328.0,20.1 L328.2,20.1 L328.4,20.1 L328.7,20.1 L328.9,20.1 L329.1,20.1 L329.4,20.1 L329.6,20.1 L329.8,20.1 L330.0,20.1 L330.3,20.1 L330.5,20.1 L330.7,20.1 L330.9,20.2 L331.2,20.2 L331.4,20.2 L331.6,20.2 L331.8,20.2 L332.1,20.2 L332.3,20.2 L332.5,20.2 L332.8,20.2 L333.0,20.2 L333.2,20.2 L333.4,20.2 L333.7,20.3 L333.9,20.3 L334.1,20.3 L334.3,20.3 L334.6,20.3 L334.8,20.3 L335.0,20.3 L335.2,20.3 L335.5,20.3 L335.7,20.3 L335.9,20.4 L336.2,20.4 L336.4,20.4 L336.6,20.4 L336.8,20.4 L337.1,20.4 L337.3,20.4 L337.5,20.4 L337.7,20.4 L338.0,20.4 L338.2,20.5 L338.4,20.5 L338.6,20.5 L338.9,20.5 L339.1,20.5 L339.3,20.5 L339.6,20.5 L339.8,20.5 L340.0,20.5 L340.2,20.6 L340.5,20.6 L340.7,20.6 L340.9,20.6 L341.1,20.6 L341.4,20.6 L341.6,20.6 L341.8,20.6 L342.0,20.6 L342.3,20.7 L342.5,20.7 L342.7,20.7 L343.0,20.7 L343.2,20.7 L343.4,20.7 L343.6,20.7 L343.9,20.8 L344.1,20.8 L344.3,20.8 L344.5,20.8 L344.8,20.8 L345.0,20.8 L345.2,20.8 L345.4,20.9 L345.7,20.9 L345.9,20.9 L346.1,20.9 L346.4,20.9 L346.6,20.9 L346.8,21.0 L347.0,21.0 L347.3,21.0 L347.5,21.0 L347.7,21.0 L347.9,21.0 L348.2,21.1 L348.4,21.1 L348.6,21.1 L348.8,21.1 L349.1,21.1 L349.3,21.2 L349.5,21.2 L349.8,21.2 L350.0,21.2 L350.2,21.2 L350.4,21.3 L350.7,21.3 L350.9,21.3 L351.1,21.3 L351.3,21.4 L351.6,21.4 L351.8,21.4 L352.0,21.4 L352.2,21.5 L352.5,21.5 L352.7,21.5 L352.9,21.6 L353.2,21.6 L353.4,21.6 L353.6,21.6 L353.8,21.7 L354.1,21.7 L354.3,21.7 L354.5,21.8 L354.7,21.8 L355.0,21.9 L355.2,21.9 L355.4,21.9 L355.6,22.0 L355.9,22.0 L356.1,22.1 L356.3,22.1 L356.6,22.1 L356.8,22.2 L357.0,22.2 L357.2,22.3 L357.5,22.3 L357.7,22.4 L357.9,22.5 L358.1,22.5 L358.4,22.6 L358.6,22.6 L358.8,22.7 L359.0,22.8 L359.3,22.8 L359.5,22.9 L359.7,23.0 L360.0,23.1 L360.2,23.1 L360.4,23.2 L360.6,23.3 L360.9,23.4 L361.1,23.5 L361.3,23.6 L361.5,23.7 L361.8,23.8 L362.0,23.9 L362.2,24.1 L362.4,24.2 L362.7,24.3 L362.9,24.5 L363.1,24.6 L363.4,24.8 L363.6,24.9 L363.8,25.1 L364.0,25.3 L364.3,25.5 L364.5,25.7 L364.7,25.9 L364.9,26.2 L365.2,26.4 L365.4,26.7 L365.6,26.9 L365.8,27.2 L366.1,27.6 L366.3,27.9 L366.5,28.3 L366.8,28.7 L367.0,29.1 L367.2,29.5 L367.4,30.0 L367.7,30.5 L367.9,31.1 L368.1,31.7 L368.3,32.4 L368.6,33.1 L368.8,33.9 L369.0,34.7 L369.2,35.7 L369.5,36.7 L369.7,37.8 L369.9,39.0 L370.2,40.3 L370.4,41.8 L370.6,43.4 L370.8,45.2 L371.1,47.2 L371.3,49.4 L371.5,51.9 L371.7,54.7 L372.0,57.9 L372.2,61.4 L372.4,65.5 L372.6,70.1 L372.9,75.4 L373.1,81.6 L373.3,88.4 L373.6,95.5 L373.8,101.3 L374.0,90.3 L374.2,52.9 L374.5,36.2 L374.7,27.8 L374.9,23.2 L375.1,20.5 L375.4,18.8 L375.6,17.6 L375.8,16.8 L376.0,16.3 L376.3,15.9 L376.5,15.5 L376.7,15.3 L377.0,15.1 L377.2,15.0 L377.4,14.8 L377.6,14.7 L377.9,14.7 L378.1,14.6 L378.3,14.6 L378.5,14.5 L378.8,14.5 L379.0,14.5 L379.2,14.4 L379.4,14.4 L379.7,14.4 L379.9,14.4 L380.1,14.4 L380.4,14.4 L380.6,14.4 L380.8,14.4 L381.0,14.4 L381.3,14.4 L381.5,14.4 L381.7,14.4 L381.9,14.4 L382.2,14.4 L382.4,14.4 L382.6,14.4 L382.8,14.4 L383.1,14.4 L383.3,14.4 L383.5,14.5 L383.8,14.5 L384.0,14.5 L384.2,14.5 L384.4,14.5 L384.7,14.5 L384.9,14.5 L385.1,14.5 L385.3,14.5 L385.6,14.6 L385.8,14.6 L386.0,14.6 L386.2,14.6 L386.5,14.6 L386.7,14.6 L386.9,14.7 L387.2,14.7 L387.4,14.7 L387.6,14.7 L387.8,14.7 L388.1,14.7 L388.3,14.7 L388.5,14.8 L388.7,14.8 L389.0,14.8 L389.2,14.8 L389.4,14.8 L389.6,14.8 L389.9,14.9 L390.1,14.9 L390.3,14.9 L390.6,14.9 L390.8,14.9 L391.0,15.0 L391.2,15.0 L391.5,15.0 L391.7,15.0 L391.9,15.0 L392.1,15.0 L392.4,15.1 L392.6,15.1 L392.8,15.1 L393.0,15.1 L393.3,15.1 L393.5,15.2 L393.7,15.2 L394.0,15.2 L394.2,15.2 L394.4,15.2 L394.6,15.3 L394.9,15.3 L395.1,15.3 L395.3,15.3 L395.5,15.3 L395.8,15.4 L396.0,15.4 L396.2,15.4 L396.4,15.4 L396.7,15.4 L396.9,15.5 L397.1,15.5 L397.4,15.5 L397.6,15.5 L397.8,15.5 L398.0,15.6 L398.3,15.6 L398.5,15.6 L398.7,15.6 L398.9,15.7 L399.2,15.7 L399.4,15.7 L399.6,15.7 L399.8,15.7 L400.1,15.8 L400.3,15.8 L400.5,15.8 L400.8,15.8 L401.0,15.9 L401.2,15.9 L401.4,15.9 L401.7,15.9 L401.9,15.9 L402.1,16.0 L402.3,16.0 L402.6,16.0 L402.8,16.0 L403.0,16.1 L403.2,16.1 L403.5,16.1 L403.7,16.1 L403.9,16.2 L404.2,16.2 L404.4,16.2 L404.6,16.2 L404.8,16.3 L405.1,16.3 L405.3,16.3 L405.5,16.3 L405.7,16.4 L406.0,16.4 L406.2,16.4 L406.4,16.4 L406.6,16.5 L406.9,16.5 L407.1,16.5 L407.3,16.6 L407.6,16.6 L407.8,16.6 L408.0,16.6 L408.2,16.7 L408.5,16.7 L408.7,16.7 L408.9,16.7 L409.1,16.8 L409.4,16.8 L409.6,16.8 L409.8,16.9 L410.0,16.9 L410.3,16.9 L410.5,16.9 L410.7,17.0 L411.0,17.0 L411.2,17.0 L411.4,17.1 L411.6,17.1 L411.9,17.1 L412.1,17.2 L412.3,17.2 L412.5,17.2 L412.8,17.3 L413.0,17.3 L413.2,17.3 L413.4,17.4 L413.7,17.4 L413.9,17.4 L414.1,17.5 L414.4,17.5 L414.6,17.5 L414.8,17.6 L415.0,17.6 L415.3,17.6 L415.5,17.7 L415.7,17.7 L415.9,17.7 L416.2,17.8 L416.4,17.8 L416.6,17.8 L416.8,17.9 L417.1,17.9 L417.3,17.9 L417.5,18.0 L417.8,18.0 L418.0,18.1 L418.2,18.1 L418.4,18.1 L418.7,18.2 L418.9,18.2 L419.1,18.2 L419.3,18.3 L419.6,18.3 L419.8,18.4 L420.0,18.4 L420.2,18.4 L420.5,18.5 L420.7,18.5 L420.9,18.6 L421.2,18.6 L421.4,18.7 L421.6,18.7 L421.8,18.7 L422.1,18.8 L422.3,18.8 L422.5,18.9 L422.7,18.9 L423.0,19.0 L423.2,19.0 L423.4,19.1 L423.6,19.1 L423.9,19.2 L424.1,19.2 L424.3,19.3 L424.6,19.3 L424.8,19.4 L425.0,19.4 L425.2,19.5 L425.5,19.5 L425.7,19.6 L425.9,19.6 L426.1,19.7 L426.4,19.7 L426.6,19.8 L426.8,19.8 L427.0,19.9 L427.3,19.9 L427.5,20.0 L427.7,20.0 L428.0,20.1 L428.2,20.2 L428.4,20.2 L428.6,20.3 L428.9,20.3 L429.1,20.4 L429.3,20.5 L429.5,20.5 L429.8,20.6 L430.0,20.7 L430.2,20.7 L430.4,20.8 L430.7,20.9 L430.9,20.9 L431.1,21.0 L431.4,21.1 L431.6,21.1 L431.8,21.2 L432.0,21.3 L432.3,21.4 L432.5,21.4 L432.7,21.5 L432.9,21.6 L433.2,21.7 L433.4,21.7 L433.6,21.8 L433.8,21.9 L434.1,22.0 L434.3,22.1 L434.5,22.2 L434.8,22.2 L435.0,22.3 L435.2,22.4 L435.4,22.5 L435.7,22.6 L435.9,22.7 L436.1,22.8 L436.3,22.9 L436.6,23.0 L436.8,23.1 L437.0,23.2 L437.2,23.3 L437.5,23.4 L437.7,23.5 L437.9,23.6 L438.2,23.7 L438.4,23.8 L438.6,23.9 L438.8,24.1 L439.1,24.2 L439.3,24.3 L439.5,24.4 L439.7,24.6 L440.0,24.7 L440.2,24.8 L440.4,24.9 L440.6,25.1 L440.9,25.2 L441.1,25.4 L441.3,25.5 L441.6,25.6 L441.8,25.8 L442.0,25.9 L442.2,26.1 L442.5,26.3 L442.7,26.4 L442.9,26.6 L443.1,26.8 L443.4,26.9 L443.6,27.1 L443.8,27.3 L444.0,27.5 L444.3,27.6 L444.5,27.8 L444.7,28.0 L445.0,28.2 L445.2,28.4 L445.4,28.6 L445.6,28.9 L445.9,29.1 L446.1,29.3 L446.3,29.5 L446.5,29.8 L446.8,30.0 L447.0,30.3 L447.2,30.5 L447.4,30.8 L447.7,31.0 L447.9,31.3 L448.1,31.6 L448.4,31.9 L448.6,32.2 L448.8,32.5 L449.0,32.8 L449.3,33.1 L449.5,33.4 L449.7,33.8 L449.9,34.1 L450.2,34.5 L450.4,34.8 L450.6,35.2 L450.8,35.6 L451.1,36.0 L451.3,36.4 L451.5,36.8 L451.8,37.2 L452.0,37.7 L452.2,38.1 L452.4,38.6 L452.7,39.1 L452.9,39.6 L453.1,40.1 L453.3,40.6 L453.6,41.2 L453.8,41.7 L454.0,42.3 L454.2,42.9 L454.5,43.6 L454.7,44.2 L454.9,44.9 L455.2,45.6 L455.4,46.3 L455.6,47.0 L455.8,47.8 L456.1,48.6 L456.3,49.4 L456.5,50.3 L456.7,51.1 L457.0,52.1 L457.2,53.0 L457.4,54.0 L457.6,55.1 L457.9,56.2 L458.1,57.3 L458.3,58.5 L458.6,59.7 L458.8,61.0 L459.0,62.3 L459.2,63.8 L459.5,65.3 L459.7,66.8 L459.9,68.5 L460.1,70.2 L460.4,72.1 L460.6,74.0 L460.8,76.1 L461.0,78.3 L461.3,80.7 L461.5,83.2 L461.7,86.0 L462.0,88.9 L462.2,92.2 L462.4,95.7 L462.6,99.6 L462.9,103.9 L463.1,108.6 L463.3,113.9 L463.5,119.8 L463.8,126.2 L464.0,132.6 L464.2,137.8 L464.4,132.4 L464.7,115.8 L464.9,98.3 L465.1,85.7 L465.4,76.3 L465.6,68.9 L465.8,62.9 L466.0,57.9 L466.3,53.6 L466.5,49.9 L466.7,46.6 L466.9,43.8 L467.2,41.3 L467.4,39.0 L467.6,37.0 L467.8,35.2 L468.1,33.6 L468.3,32.1 L468.5,30.8 L468.8,29.6 L469.0,28.5 L469.2,27.5 L469.4,26.6 L469.7,25.8 L469.9,25.0 L470.1,24.3 L470.3,23.7 L470.6,23.1 L470.8,22.5 L471.0,22.0 L471.2,21.5 L471.5,21.1 L471.7,20.7 L471.9,20.3 L472.2,19.9 L472.4,19.6 L472.6,19.3 L472.8,19.0 L473.1,18.7 L473.3,18.5 L473.5,18.2 L473.7,18.0 L474.0,17.8 L474.2,17.6 L474.4,17.4 L474.6,17.2 L474.9,17.1 L475.1,16.9 L475.3,16.7 L475.6,16.6 L475.8,16.5 L476.0,16.3 L476.2,16.2 L476.5,16.1 L476.7,16.0 L476.9,15.9 L477.1,15.8 L477.4,15.7 L477.6,15.6 L477.8,15.5 L478.0,15.4 L478.3,15.4 L478.5,15.3 L478.7,15.2 L479.0,15.2 L479.2,15.1 L479.4,15.1 L479.6,15.0 L479.9,15.0 L480.1,14.9 L480.3,14.9 L480.5,14.9 L480.8,14.8 L481.0,14.8 L481.2,14.8 L481.4,14.8 L481.7,14.7 L481.9,14.7 L482.1,14.7 L482.4,14.7 L482.6,14.6 L482.8,14.6 L483.0,14.6 L483.3,14.6 L483.5,14.6 L483.7,14.5 L483.9,14.5 L484.2,14.5 L484.4,14.5 L484.6,14.5 L484.8,14.5 L485.1,14.5 L485.3,14.5 L485.5,14.5 L485.8,14.5 L486.0,14.5 L486.2,14.4 L486.4,14.4 L486.7,14.4 L486.9,14.4 L487.1,14.4 L487.3,14.4 L487.6,14.4 L487.8,14.4 L488.0,14.4 L488.2,14.4 L488.5,14.4 L488.7,14.4 L488.9,14.4 L489.2,14.4 L489.4,14.4 L489.6,14.4 L489.8,14.4 L490.1,14.4 L490.3,14.4 L490.5,14.4 L490.7,14.4 L491.0,14.4 L491.2,14.5 L491.4,14.5 L491.6,14.5 L491.9,14.5 L492.1,14.5 L492.3,14.5 L492.6,14.5 L492.8,14.5 L493.0,14.5 L493.2,14.5 L493.5,14.5 L493.7,14.5 L493.9,14.5 L494.1,14.5 L494.4,14.5 L494.6,14.5 L494.8,14.6 L495.0,14.6 L495.3,14.6 L495.5,14.6 L495.7,14.6 L496.0,14.6 L496.2,14.6 L496.4,14.6 L496.6,14.6 L496.9,14.6 L497.1,14.6 L497.3,14.6 L497.5,14.7 L497.8,14.7 L498.0,14.7 L498.2,14.7 L498.4,14.7 L498.7,14.7 L498.9,14.7 L499.1,14.7 L499.4,14.7 L499.6,14.8 L499.8,14.8 L500.0,14.8 L500.3,14.8 L500.5,14.8 L500.7,14.8 L500.9,14.8 L501.2,14.8 L501.4,14.8 L501.6,14.9 L501.8,14.9 L502.1,14.9 L502.3,14.9 L502.5,14.9 L502.8,14.9 L503.0,14.9 L503.2,14.9 L503.4,14.9 L503.7,15.0 L503.9,15.0 L504.1,15.0 L504.3,15.0 L504.6,15.0 L504.8,15.0 L505.0,15.0 L505.2,15.0 L505.5,15.1 L505.7,15.1 L505.9,15.1 L506.2,15.1 L506.4,15.1 L506.6,15.1 L506.8,15.1 L507.1,15.2 L507.3,15.2 L507.5,15.2 L507.7,15.2 L508.0,15.2 L508.2,15.2 L508.4,15.2 L508.6,15.2 L508.9,15.3 L509.1,15.3 L509.3,15.3 L509.6,15.3 L509.8,15.3 L510.0,15.3 L510.2,15.3 L510.5,15.4 L510.7,15.4 L510.9,15.4 L511.1,15.4 L511.4,15.4 L511.6,15.4 L511.8,15.4 L512.0,15.5 L512.3,15.5 L512.5,15.5" stroke="#f2b41c"/>
<path d="M308.5,19.5 L308.7,19.5 L309.0,19.5 L309.2,19.5 L309.4,19.5 L309.6,19.5 L309.9,19.5 L310.1,19.5 L310.3,19.5 L310.5,19.5 L310.8,19.5 L311.0,19.5 L311.2,19.5 L311.4,19.5 L311.7,19.5 L311.9,19.5 L312.1,19.5 L312.4,19.6 L312.6,19.6 L312.8,19.6 L313.0,19.6 L313.3,19.6 L313.5,19.6 L313.7,19.6 L313.9,19.6 L314.2,19.6 L314.4,19.6 L314.6,19.6 L314.8,19.6 L315.1,19.6 L315.3,19.6 L315.5,19.6 L315.8,19.6 L316.0,19.6 L316.2,19.7 L316.4,19.7 L316.7,19.7 L316.9,19.7 L317.1,19.7 L317.3,19.7 L317.6,19.7 L317.8,19.7 L318.0,19.7 L318.2,19.7 L318.5,19.7 L318.7,19.7 L318.9,19.7 L319.2,19.7 L319.4,19.7 L319.6,19.7 L319.8,19.8 L320.1,19.8 L320.3,19.8 L320.5,19.8 L320.7,19.8 L321.0,19.8 L321.2,19.8 L321.4,19.8 L321.6,19.8 L321.9,19.8 L322.1,19.8 L322.3,19.8 L322.6,19.8 L322.8,19.8 L323.0,19.8 L323.2,19.9 L323.5,19.9 L323.7,19.9 L323.9,19.9 L324.1,19.9 L324.4,19.9 L324.6,19.9 L324.8,19.9 L325.0,19.9 L325.3,19.9 L325.5,19.9 L325.7,19.9 L326.0,19.9 L326.2,19.9 L326.4,19.9 L326.6,20.0 L326.9,20.0 L327.1,20.0 L327.3,20.0 L327.5,20.0 L327.8,20.0 L328.0,20.0 L328.2,20.0 L328.4,20.0 L328.7,20.0 L328.9,20.0 L329.1,20.0 L329.4,20.0 L329.6,20.0 L329.8,20.1 L330.0,20.1 L330.3,20.1 L330.5,20.1 L330.7,20.1 L330.9,20.1 L331.2,20.1 L331.4,20.1 L331.6,20.1 L331.8,20.1 L332.1,20.1 L332.3,20.1 L332.5,20.1 L332.8,20.2 L333.0,20.2 L333.2,20.2 L333.4,20.2 L333.7,20.2 L333.9,20.2 L334.1,20.2 L334.3,20.2 L334.6,20.2 L334.8,20.2 L335.0,20.2 L335.2,20.2 L335.5,20.3 L335.7,20.3 L335.9,20.3 L336.2,20.3 L336.4,20.3 L336.6,20.3 L336.8,20.3 L337.1,20.3 L337.3,20.3 L337.5,20.3 L337.7,20.3 L338.0,20.3 L338.2,20.4 L338.4,20.4 L338.6,20.4 L338.9,20.4 L339.1,20.4 L339.3,20.4 L339.6,20.4 L339.8,20.4 L340.0,20.4 L340.2,20.4 L340.5,20.5 L340.7,20.5 L340.9,20.5 L341.1,20.5 L341.4,20.5 L341.6,20.5 L341.8,20.5 L342.0,20.5 L342.3,20.5 L342.5,20.5 L342.7,20.6 L343.0,20.6 L343.2,20.6 L343.4,20.6 L343.6,20.6 L343.9,20.6 L344.1,20.6 L344.3,20.6 L344.5,20.6 L344.8,20.7 L345.0,20.7 L345.2,20.7 L345.4,20.7 L345.7,20.7 L345.9,20.7 L346.1,20.7 L346.4,20.7 L346.6,20.8 L346.8,20.8 L347.0,20.8 L347.3,20.8 L347.5,20.8 L347.7,20.8 L347.9,20.8 L348.2,20.9 L348.4,20.9 L348.6,20.9 L348.8,20.9 L349.1,20.9 L349.3,20.9 L349.5,20.9 L349.8,21.0 L350.0,21.0 L350.2,21.0 L350.4,21.0 L350.7,21.0 L350.9,21.0 L351.1,21.1 L351.3,21.1 L351.6,21.1 L351.8,21.1 L352.0,21.1 L352.2,21.2 L352.5,21.2 L352.7,21.2 L352.9,21.2 L353.2,21.2 L353.4,21.3 L353.6,21.3 L353.8,21.3 L354.1,21.3 L354.3,21.3 L354.5,21.4 L354.7,21.4 L355.0,21.4 L355.2,21.4 L355.4,21.5 L355.6,21.5 L355.9,21.5 L356.1,21.6 L356.3,21.6 L356.6,21.6 L356.8,21.6 L357.0,21.7 L357.2,21.7 L357.5,21.7 L357.7,21.8 L357.9,21.8 L358.1,21.8 L358.4,21.9 L358.6,21.9 L358.8,21.9 L359.0,22.0 L359.3,22.0 L359.5,22.1 L359.7,22.1 L360.0,22.1 L360.2,22.2 L360.4,22.2 L360.6,22.3 L360.9,22.3 L361.1,22.4 L361.3,22.4 L361.5,22.5 L361.8,22.6 L362.0,22.6 L362.2,22.7 L362.4,22.7 L362.7,22.8 L362.9,22.9 L363.1,22.9 L363.4,23.0 L363.6,23.1 L363.8,23.2 L364.0,23.3 L364.3,23.3 L364.5,23.4 L364.7,23.5 L364.9,23.6 L365.2,23.7 L365.4,23.8 L365.6,24.0 L365.8,24.1 L366.1,24.2 L366.3,24.3 L366.5,24.5 L366.8,24.6 L367.0,24.8 L367.2,24.9 L367.4,25.1 L367.7,25.3 L367.9,25.5 L368.1,25.7 L368.3,25.9 L368.6,26.1 L368.8,26.4 L369.0,26.6 L369.2,26.9 L369.5,27.2 L369.7,27.5 L369.9,27.8 L370.2,28.2 L370.4,28.5 L370.6,28.9 L370.8,29.4 L371.1,29.9 L371.3,30.4 L371.5,30.9 L371.7,31.5 L372.0,32.1 L372.2,32.8 L372.4,33.6 L372.6,34.4 L372.9,35.3 L373.1,36.2 L373.3,37.3 L373.6,38.5 L373.8,39.7 L374.0,41.2 L374.2,42.7 L374.5,44.4 L374.7,46.3 L374.9,48.4 L375.1,50.8 L375.4,53.4 L375.6,56.4 L375.8,59.7 L376.0,63.5 L376.3,67.8 L376.5,72.8 L376.7,78.4 L377.0,84.8 L377.2,91.5 L377.4,97.8 L377.6,101.2 L377.9,65.4 L378.1,41.8 L378.3,30.8 L378.5,24.9 L378.8,21.5 L379.0,19.4 L379.2,18.1 L379.4,17.1 L379.7,16.5 L379.9,16.0 L380.1,15.6 L380.4,15.4 L380.6,15.2 L380.8,15.0 L381.0,14.9 L381.3,14.8 L381.5,14.7 L381.7,14.6 L381.9,14.6 L382.2,14.5 L382.4,14.5 L382.6,14.4 L382.8,14.4 L383.1,14.4 L383.3,14.4 L383.5,14.4 L383.8,14.4 L384.0,14.4 L384.2,14.4 L384.4,14.3 L384.7,14.3 L384.9,14.4 L385.1,14.4 L385.3,14.4 L385.6,14.4 L385.8,14.4 L386.0,14.4 L386.2,14.4 L386.5,14.4 L386.7,14.4 L386.9,14.4 L387.2,14.4 L387.4,14.4 L387.6,14.4 L387.8,14.4 L388.1,14.5 L388.3,14.5 L388.5,14.5 L388.7,14.5 L389.0,14.5 L389.2,14.5 L389.4,14.5 L389.6,14.6 L389.9,14.6 L390.1,14.6 L390.3,14.6 L390.6,14.6 L390.8,14.6 L391.0,14.6 L391.2,14.7 L391.5,14.7 L391.7,14.7 L391.9,14.7 L392.1,14.7 L392.4,14.7 L392.6,14.7 L392.8,14.8 L393.0,14.8 L393.3,14.8 L393.5,14.8 L393.7,14.8 L394.0,14.8 L394.2,14.9 L394.4,14.9 L394.6,14.9 L394.9,14.9 L395.1,14.9 L395.3,15.0 L395.5,15.0 L395.8,15.0 L396.0,15.0 L396.2,15.0 L396.4,15.0 L396.7,15.1 L396.9,15.1 L397.1,15.1 L397.4,15.1 L397.6,15.1 L397.8,15.2 L398.0,15.2 L398.3,15.2 L398.5,15.2 L398.7,15.2 L398.9,15.3 L399.2,15.3 L399.4,15.3 L399.6,15.3 L399.8,15.3 L400.1,15.4 L400.3,15.4 L400.5,15.4 L400.8,15.4 L401.0,15.4 L401.2,15.5 L401.4,15.5 L401.7,15.5 L401.9,15.5 L402.1,15.5 L402.3,15.6 L402.6,15.6 L402.8,15.6 L403.0,15.6 L403.2,15.6 L403.5,15.7 L403.7,15.7 L403.9,15.7 L404.2,15.7 L404.4,15.8 L404.6,15.8 L404.8,15.8 L405.1,15.8 L405.3,15.8 L405.5,15.9 L405.7,15.9 L406.0,15.9 L406.2,15.9 L406.4,16.0 L406.6,16.0 L406.9,16.0 L407.1,16.0 L407.3,16.1 L407.6,16.1 L407.8,16.1 L408.0,16.1 L408.2,16.1 L408.5,16.2 L408.7,16.2 L408.9,16.2 L409.1,16.2 L409.4,16.3 L409.6,16.3 L409.8,16.3 L410.0,16.3 L410.3,16.4 L410.5,16.4 L410.7,16.4 L411.0,16.4 L411.2,16.5 L411.4,16.5 L411.6,16.5 L411.9,16.6 L412.1,16.6 L412.3,16.6 L412.5,16.6 L412.8,16.7 L413.0,16.7 L413.2,16.7 L413.4,16.7 L413.7,16.8 L413.9,16.8 L414.1,16.8 L414.4,16.9 L414.6,16.9 L414.8,16.9 L415.0,16.9 L415.3,17.0 L415.5,17.0 L415.7,17.0 L415.9,17.1 L416.2,17.1 L416.4,17.1 L416.6,17.2 L416.8,17.2 L417.1,17.2 L417.3,17.2 L417.5,17.3 L417.8,17.3 L418.0,17.3 L418.2,17.4 L418.4,17.4 L418.7,17.4 L418.9,17.5 L419.1,17.5 L419.3,17.5 L419.6,17.6 L419.8,17.6 L420.0,17.6 L420.2,17.7 L420.5,17.7 L420.7,17.7 L420.9,17.8 L421.2,17.8 L421.4,17.8 L421.6,17.9 L421.8,17.9 L422.1,18.0 L422.3,18.0 L422.5,18.0 L422.7,18.1 L423.0,18.1 L423.2,18.1 L423.4,18.2 L423.6,18.2 L423.9,18.3 L424.1,18.3 L424.3,18.3 L424.6,18.4 L424.8,18.4 L425.0,18.5 L425.2,18.5 L425.5,18.5 L425.7,18.6 L425.9,18.6 L426.1,18.7 L426.4,18.7 L426.6,18.7 L426.8,18.8 L427.0,18.8 L427.3,18.9 L427.5,18.9 L427.7,19.0 L428.0,19.0 L428.2,19.1 L428.4,19.1 L428.6,19.2 L428.9,19.2 L429.1,19.3 L429.3,19.3 L429.5,19.3 L429.8,19.4 L430.0,19.4 L430.2,19.5 L430.4,19.5 L430.7,19.6 L430.9,19.7 L431.1,19.7 L431.4,19.8 L431.6,19.8 L431.8,19.9 L432.0,19.9 L432.3,20.0 L432.5,20.0 L432.7,20.1 L432.9,20.2 L433.2,20.2 L433.4,20.3 L433.6,20.3 L433.8,20.4 L434.1,20.5 L434.3,20.5 L434.5,20.6 L434.8,20.6 L435.0,20.7 L435.2,20.8 L435.4,20.8 L435.7,20.9 L435.9,21.0 L436.1,21.0 L436.3,21.1 L436.6,21.2 L436.8,21.3 L437.0,21.3 L437.2,21.4 L437.5,21.5 L437.7,21.5 L437.9,21.6 L438.2,21.7 L438.4,21.8 L438.6,21.9 L438.8,21.9 L439.1,22.0 L439.3,22.1 L439.5,22.2 L439.7,22.3 L440.0,22.4 L440.2,22.5 L440.4,22.6 L440.6,22.6 L440.9,22.7 L441.1,22.8 L441.3,22.9 L441.6,23.0 L441.8,23.1 L442.0,23.2 L442.2,23.3 L442.5,23.4 L442.7,23.5 L442.9,23.7 L443.1,23.8 L443.4,23.9 L443.6,24.0 L443.8,24.1 L444.0,24.2 L444.3,24.3 L444.5,24.5 L444.7,24.6 L445.0,24.7 L445.2,24.9 L445.4,25.0 L445.6,25.1 L445.9,25.3 L446.1,25.4 L446.3,25.5 L446.5,25.7 L446.8,25.8 L447.0,26.0 L447.2,26.1 L447.4,26.3 L447.7,26.5 L447.9,26.6 L448.1,26.8 L448.4,27.0 L448.6,27.1 L448.8,27.3 L449.0,27.5 L449.3,27.7 L449.5,27.9 L449.7,28.1 L449.9,28.3 L450.2,28.5 L450.4,28.7 L450.6,28.9 L450.8,29.1 L451.1,29.4 L451.3,29.6 L451.5,29.8 L451.8,30.1 L452.0,30.3 L452.2,30.6 L452.4,30.8 L452.7,31.1 L452.9,31.4 L453.1,31.6 L453.3,31.9 L453.6,32.2 L453.8,32.5 L454.0,32.8 L454.2,33.1 L454.5,33.5 L454.7,33.8 L454.9,34.2 L455.2,34.5 L455.4,34.9 L455.6,35.2 L455.8,35.6 L456.1,36.0 L456.3,36.4 L456.5,36.9 L456.7,37.3 L457.0,37.7 L457.2,38.2 L457.4,38.7 L457.6,39.1 L457.9,39.6 L458.1,40.2 L458.3,40.7 L458.6,41.2 L458.8,41.8 L459.0,42.4 L459.2,43.0 L459.5,43.6 L459.7,44.3 L459.9,44.9 L460.1,45.6 L460.4,46.4 L460.6,47.1 L460.8,47.9 L461.0,48.7 L461.3,49.5 L461.5,50.4 L461.7,51.2 L462.0,52.2 L462.2,53.1 L462.4,54.1 L462.6,55.2 L462.9,56.3 L463.1,57.4 L463.3,58.6 L463.5,59.8 L463.8,61.1 L464.0,62.5 L464.2,63.9 L464.4,65.4 L464.7,67.0 L464.9,68.6 L465.1,70.4 L465.4,72.3 L465.6,74.2 L465.8,76.3 L466.0,78.6 L466.3,80.9 L466.5,83.5 L466.7,86.3 L466.9,89.3 L467.2,92.5 L467.4,96.1 L467.6,100.0 L467.8,104.4 L468.1,109.2 L468.3,114.6 L468.5,120.7 L468.8,127.2 L469.0,133.7 L469.2,138.9 L469.4,132.7 L469.7,114.3 L469.9,97.1 L470.1,84.9 L470.3,75.7 L470.6,68.4 L470.8,62.4 L471.0,57.5 L471.2,53.2 L471.5,49.6 L471.7,46.4 L471.9,43.6 L472.2,41.1 L472.4,38.8 L472.6,36.9 L472.8,35.1 L473.1,33.5 L473.3,32.0 L473.5,30.7 L473.7,29.5 L474.0,28.4 L474.2,27.4 L474.4,26.5 L474.6,25.7 L474.9,24.9 L475.1,24.2 L475.3,23.6 L475.6,23.0 L475.8,22.5 L476.0,21.9 L476.2,21.5 L476.5,21.0 L476.7,20.6 L476.9,20.2 L477.1,19.9 L477.4,19.6 L477.6,19.3 L477.8,19.0 L478.0,18.7 L478.3,18.4 L478.5,18.2 L478.7,18.0 L479.0,17.8 L479.2,17.6 L479.4,17.4 L479.6,17.2 L479.9,17.0 L480.1,16.9 L480.3,16.7 L480.5,16.6 L480.8,16.5 L481.0,16.3 L481.2,16.2 L481.4,16.1 L481.7,16.0 L481.9,15.9 L482.1,15.8 L482.4,15.7 L482.6,15.6 L482.8,15.5 L483.0,15.4 L483.3,15.4 L483.5,15.3 L483.7,15.2 L483.9,15.2 L484.2,15.1 L484.4,15.1 L484.6,15.0 L484.8,15.0 L485.1,14.9 L485.3,14.9 L485.5,14.9 L485.8,14.8 L486.0,14.8 L486.2,14.8 L486.4,14.7 L486.7,14.7 L486.9,14.7 L487.1,14.7 L487.3,14.7 L487.6,14.6 L487.8,14.6 L488.0,14.6 L488.2,14.6 L488.5,14.6 L488.7,14.5 L488.9,14.5 L489.2,14.5 L489.4,14.5 L489.6,14.5 L489.8,14.5 L490.1,14.5 L490.3,14.5 L490.5,14.5 L490.7,14.5 L491.0,14.5 L491.2,14.4 L491.4,14.4 L491.6,14.4 L491.9,14.4 L492.1,14.4 L492.3,14.4 L492.6,14.4 L492.8,14.4 L493.0,14.4 L493.2,14.4 L493.5,14.4 L493.7,14.4 L493.9,14.4 L494.1,14.4 L494.4,14.4 L494.6,14.4 L494.8,14.4 L495.0,14.4 L495.3,14.4 L495.5,14.4 L495.7,14.4 L496.0,14.4 L496.2,14.5 L496.4,14.5 L496.6,14.5 L496.9,14.5 L497.1,14.5 L497.3,14.5 L497.5,14.5 L497.8,14.5 L498.0,14.5 L498.2,14.5 L498.4,14.5 L498.7,14.5 L498.9,14.5 L499.1,14.5 L499.4,14.5 L499.6,14.5 L499.8,14.6 L500.0,14.6 L500.3,14.6 L500.5,14.6 L500.7,14.6 L500.9,14.6 L501.2,14.6 L501.4,14.6 L501.6,14.6 L501.8,14.6 L502.1,14.6 L502.3,14.7 L502.5,14.7 L502.8,14.7 L503.0,14.7 L503.2,14.7 L503.4,14.7 L503.7,14.7 L503.9,14.7 L504.1,14.7 L504.3,14.7 L504.6,14.8 L504.8,14.8 L505.0,14.8 L505.2,14.8 L505.5,14.8 L505.7,14.8 L505.9,14.8 L506.2,14.8 L506.4,14.8 L506.6,14.9 L506.8,14.9 L507.1,14.9 L507.3,14.9 L507.5,14.9 L507.7,14.9 L508.0,14.9 L508.2,14.9 L508.4,15.0 L508.6,15.0 L508.9,15.0 L509.1,15.0 L509.3,15.0 L509.6,15.0 L509.8,15.0 L510.0,15.0 L510.2,15.1 L510.5,15.1 L510.7,15.1 L510.9,15.1 L511.1,15.1 L511.4,15.1 L511.6,15.1 L511.8,15.1 L512.0,15.2 L512.3,15.2 L512.5,15.2" stroke="#9a38b0"/>
</g>
<ellipse cx="372.5" cy="60.5" rx="12.8" ry="5.3" fill="none" stroke="#bbb" stroke-width="0.7" stroke-dasharray="2,1.3"/>
<ellipse cx="462" cy="60.5" rx="19.5" ry="7" fill="none" stroke="#bbb" stroke-width="0.7" stroke-dasharray="2,1.3"/>
<rect x="308.5" y="12.0" width="204.0" height="132.0" fill="none" stroke="#333" stroke-width="0.8"/>
<path d="M308.5,144.0 v-2.2 M308.5,12.0 v2.2 M344.0,144.0 v-2.2 M344.0,12.0 v2.2 M379.5,144.0 v-2.2 M379.5,12.0 v2.2 M414.9,144.0 v-2.2 M414.9,12.0 v2.2 M450.4,144.0 v-2.2 M450.4,12.0 v2.2 M485.9,144.0 v-2.2 M485.9,12.0 v2.2 M308.5,11.8 h2.2 M512.5,11.8 h-2.2 M308.5,53.8 h2.2 M512.5,53.8 h-2.2 M308.5,95.8 h2.2 M512.5,95.8 h-2.2 M308.5,137.8 h2.2 M512.5,137.8 h-2.2 " stroke="#333" stroke-width="0.7" fill="none"/>
<text class="tk" x="309.7" y="157" text-anchor="middle">2.6</text>
<text class="tk" x="345.2" y="157" text-anchor="middle">2.8</text>
<text class="tk" x="380.7" y="157" text-anchor="middle">3</text>
<text class="tk" x="416.1" y="157" text-anchor="middle">3.2</text>
<text class="tk" x="451.6" y="157" text-anchor="middle">3.4</text>
<text class="tk" x="487.1" y="157" text-anchor="middle">3.6</text>
<text class="tk" x="306" y="15.9" text-anchor="end">0</text>
<text class="tk" x="306" y="57.9" text-anchor="end">−10</text>
<text class="tk" x="306" y="99.9" text-anchor="end">−20</text>
<text class="tk" x="306" y="141.9" text-anchor="end">−30</text>
<text class="ax" x="408" y="171.5" text-anchor="middle" textLength="88" lengthAdjust="spacingAndGlyphs">Frequency (GHz)</text>
<text class="ax" transform="translate(280.3,77.6) rotate(-90)" text-anchor="middle" style="font-size:12px;letter-spacing:0.25px">|<tspan class="it">S</tspan><tspan style="font-size:7px" dy="1.5">21</tspan><tspan dy="-1.5">| (dB)</tspan></text>
<text x="347.2" y="58.8" class="it" style="font-size:15px;fill:#222">f<tspan style="font-size:10px;font-style:normal" dy="3">1</tspan></text>
<text x="429.5" y="58.8" class="it" style="font-size:15px;fill:#222">f<tspan style="font-size:10px;font-style:normal" dy="3">2</tspan></text>
<rect x="379.8" y="71.4" width="70.6" height="66.4" fill="#fff" stroke="#333" stroke-width="0.7"/>
<line x1="382" y1="81.4" x2="389.5" y2="81.4" stroke="#0c8ad8" stroke-width="1.3"/>
<text x="394.5" y="85.4" style="font-size:12px;fill:#111" textLength="55" lengthAdjust="spacingAndGlyphs"><tspan class="it">l</tspan>=20.26mm</text>
<line x1="382" y1="97.2" x2="389.5" y2="97.2" stroke="#f0652a" stroke-width="1.3"/>
<text x="394.5" y="101.2" style="font-size:12px;fill:#111" textLength="55" lengthAdjust="spacingAndGlyphs"><tspan class="it">l</tspan>=19.77mm</text>
<line x1="382" y1="113.1" x2="389.5" y2="113.1" stroke="#f2b41c" stroke-width="1.3"/>
<text x="394.5" y="117.1" style="font-size:12px;fill:#111" textLength="55" lengthAdjust="spacingAndGlyphs"><tspan class="it">l</tspan>=19.28mm</text>
<line x1="382" y1="128.9" x2="389.5" y2="128.9" stroke="#9a38b0" stroke-width="1.3"/>
<text x="394.5" y="132.9" style="font-size:12px;fill:#111" textLength="55" lengthAdjust="spacingAndGlyphs"><tspan class="it">l</tspan>=18.79mm</text>
<text class="cap" x="410.5" y="184.5" text-anchor="middle">(c)</text>
</g>
<g id="panel-d">
<rect x="269.3" y="230" width="10" height="46" fill="#fff"/>
<clipPath id="clipd"><rect x="309.2" y="188.0" width="203.8" height="131.8"/></clipPath>
<defs>
<radialGradient id="glowc"><stop offset="0" stop-color="#7dfcff" stop-opacity="1"/><stop offset="0.45" stop-color="#22b9f5" stop-opacity="0.85"/><stop offset="1" stop-color="#1040f0" stop-opacity="0"/></radialGradient>
<radialGradient id="glowg"><stop offset="0" stop-color="#9dff60" stop-opacity="1"/><stop offset="0.3" stop-color="#40f0c0" stop-opacity="0.95"/><stop offset="0.65" stop-color="#22a8f5" stop-opacity="0.8"/><stop offset="1" stop-color="#1040f0" stop-opacity="0"/></radialGradient>
<radialGradient id="glowb"><stop offset="0" stop-color="#3aa0ff" stop-opacity="0.9"/><stop offset="1" stop-color="#1040f0" stop-opacity="0"/></radialGradient>
</defs>
<defs><filter id="bl1" x="-50%" y="-50%" width="200%" height="200%"><feGaussianBlur stdDeviation="0.9"/></filter><filter id="bl2" x="-50%" y="-50%" width="200%" height="200%"><feGaussianBlur stdDeviation="1.6"/></filter><filter id="bl05" x="-50%" y="-50%" width="200%" height="200%"><feGaussianBlur stdDeviation="0.5"/></filter></defs>
<rect x="337.3" y="191.9" width="82.1" height="47" fill="#0a14f2" stroke="#c4cdf7" stroke-width="0.8"/>
<path d="M361,205.2 C365.5,207 368.8,211.5 368.9,217 C368.9,219.5 367.5,221.5 365.4,223.5" fill="none" stroke="#aab6d6" stroke-width="0.9"/>
<polygon points="374.5,229 374.5,233 390,231.6 390,230.4" fill="#18c8ff" filter="url(#bl1)"/>
<line x1="375" y1="231" x2="404" y2="231" stroke="#8fa8e0" stroke-width="0.9"/>
<polygon points="375,229.8 375,232.2 386,231.3 386,230.7" fill="#5ff4ff" filter="url(#bl05)"/>
<circle cx="356" cy="203.4" r="4.9" fill="#cdd8cf"/>
<circle cx="407.8" cy="231" r="4.9" fill="#cdd8cf"/>
<rect x="406.6" y="192.9" width="12.3" height="12.7" fill="#fff"/>
<text x="408.3" y="203" class="it" style="font-size:11px;fill:#111;stroke:#111;stroke-width:0.2px">f<tspan style="font-size:5px;font-style:normal;stroke:none" dy="1.2">1</tspan></text>
<rect x="335.9" y="265.5" width="83.9" height="48.8" fill="#0a14f2" stroke="#c4cdf7" stroke-width="0.8"/>
<circle cx="354.8" cy="277.4" r="7.2" fill="#2a80ff" opacity="0.85" filter="url(#bl2)"/>
<path d="M362,280.5 C366.5,283 369.5,288 368,292.5 C367,295.5 365.5,297 364.2,298.2" fill="none" stroke="#28a8ff" stroke-width="7.5" stroke-linecap="round" filter="url(#bl2)"/>
<ellipse cx="365.8" cy="294.5" rx="4" ry="5.5" fill="#30c8f8" filter="url(#bl2)" transform="rotate(25 365.8 294.5)"/>
<path d="M366.5,285 C369.5,288.5 369,293 365.5,297.5" fill="none" stroke="#38e0f0" stroke-width="3.6" stroke-linecap="round" filter="url(#bl1)"/>
<ellipse cx="364.6" cy="297" rx="2.3" ry="2.8" fill="#5cf060" filter="url(#bl05)" transform="rotate(25 364.6 297)"/>
<circle cx="364.2" cy="297.6" r="0.9" fill="#f0e020"/>
<path d="M360,278.7 C364,280 369,284 369.6,290 C369.8,292.5 368,295 366.3,296.5" fill="none" stroke="#c8b8b4" stroke-width="0.8"/>
<polygon points="374,304 374,308 391,306.8 391,305.2" fill="#20c0ff" filter="url(#bl1)"/>
<line x1="375" y1="305.9" x2="404.5" y2="305.9" stroke="#a8a8c8" stroke-width="0.9"/>
<polygon points="375,304.8 375,307 388,306.3 388,305.5" fill="#66f0ff" filter="url(#bl05)"/>
<circle cx="408.7" cy="305.9" r="6" fill="#2a80ff" opacity="0.5" filter="url(#bl1)"/>
<circle cx="354.8" cy="277.4" r="4.9" fill="#cdd8cf"/>
<circle cx="408.7" cy="305.9" r="4.9" fill="#cdd8cf"/>
<rect x="408.7" y="267" width="10.6" height="11.7" fill="#fff"/>
<text x="410" y="276.3" class="it" style="font-size:10.5px;fill:#111;stroke:#111;stroke-width:0.2px">f<tspan style="font-size:5px;font-style:normal;stroke:none" dy="1.2">2</tspan></text>
<g clip-path="url(#clipd)" fill="none" stroke-width="1.5" stroke-linejoin="round">
<path d="M309.0,257.5 C309.8,257.2 312.3,256.0 314.0,255.5 C315.7,255.0 317.2,254.8 319.0,254.5 C320.8,254.2 322.8,254.1 325.0,254.0 C327.2,253.9 329.8,254.2 332.0,254.0 C334.2,253.8 336.0,253.2 338.0,252.5 C340.0,251.8 342.2,250.8 344.0,250.0 C345.8,249.2 347.3,248.4 349.0,248.0 C350.7,247.6 352.3,247.4 354.0,247.5 C355.7,247.6 357.2,248.1 359.0,248.5 C360.8,248.9 363.2,249.9 365.0,250.0 C366.8,250.1 368.3,249.5 370.0,249.0 C371.7,248.5 373.7,247.4 375.0,247.0 C376.3,246.6 377.0,246.2 378.0,246.5 C379.0,246.8 379.8,247.6 381.0,249.0 C382.2,250.4 383.7,253.4 385.0,255.0 C386.3,256.6 387.7,258.0 389.0,258.5 C390.3,259.0 391.5,258.6 393.0,258.0 C394.5,257.4 396.2,256.2 398.0,255.0 C399.8,253.8 402.2,252.1 404.0,251.0 C405.8,249.9 407.3,249.1 409.0,248.5 C410.7,247.9 412.5,247.5 414.0,247.5 C415.5,247.5 416.5,247.8 418.0,248.5 C419.5,249.2 421.2,251.0 423.0,252.0 C424.8,253.0 427.0,254.0 429.0,254.5 C431.0,255.0 433.0,255.2 435.0,255.0 C437.0,254.8 439.2,254.2 441.0,253.5 C442.8,252.8 444.3,251.5 446.0,250.5 C447.7,249.5 449.5,248.2 451.0,247.5 C452.5,246.8 453.7,246.4 455.0,246.5 C456.3,246.6 457.7,247.2 459.0,248.0 C460.3,248.8 461.5,249.8 463.0,251.0 C464.5,252.2 466.3,254.4 468.0,255.5 C469.7,256.6 471.3,257.3 473.0,257.5 C474.7,257.7 476.3,257.1 478.0,256.5 C479.7,255.9 481.3,255.0 483.0,254.0 C484.7,253.0 486.5,251.5 488.0,250.5 C489.5,249.5 490.7,248.3 492.0,248.0 C493.3,247.7 494.7,247.8 496.0,248.5 C497.3,249.2 498.7,250.5 500.0,252.0 C501.3,253.5 502.7,255.5 504.0,257.5 C505.3,259.5 506.6,261.4 508.0,264.0 C509.4,266.6 511.8,271.5 512.5,273.0" stroke="#0d72c4"/>
<path d="M309.0,256.0 C309.5,256.4 311.0,258.0 312.0,258.5 C313.0,259.0 313.8,259.3 315.0,259.0 C316.2,258.7 317.5,257.2 319.0,256.5 C320.5,255.8 322.3,255.0 324.0,255.0 C325.7,255.0 327.3,255.8 329.0,256.5 C330.7,257.2 332.5,258.4 334.0,259.0 C335.5,259.6 336.5,260.1 338.0,260.0 C339.5,259.9 341.3,259.1 343.0,258.5 C344.7,257.9 346.2,256.9 348.0,256.5 C349.8,256.1 352.0,256.2 354.0,256.0 C356.0,255.8 358.3,255.5 360.0,255.0 C361.7,254.5 362.7,253.7 364.0,253.0 C365.3,252.3 366.7,251.2 368.0,251.0 C369.3,250.8 370.7,251.7 372.0,252.0 C373.3,252.3 374.7,253.2 376.0,253.0 C377.3,252.8 378.7,250.8 380.0,250.5 C381.3,250.2 382.7,250.8 384.0,251.5 C385.3,252.2 386.7,254.0 388.0,255.0 C389.3,256.0 390.5,257.4 392.0,257.5 C393.5,257.6 395.0,256.1 397.0,255.5 C399.0,254.9 401.8,254.6 404.0,254.0 C406.2,253.4 408.2,252.8 410.0,252.0 C411.8,251.2 413.5,249.9 415.0,249.5 C416.5,249.1 417.7,249.1 419.0,249.5 C420.3,249.9 421.7,251.2 423.0,252.0 C424.3,252.8 425.7,254.0 427.0,254.0 C428.3,254.0 429.7,253.7 431.0,252.0 C432.3,250.3 433.7,247.3 435.0,244.0 C436.3,240.7 437.7,236.0 439.0,232.0 C440.3,228.0 441.8,222.4 443.0,220.0 C444.2,217.6 445.0,217.2 446.0,217.5 C447.0,217.8 448.0,219.2 449.0,222.0 C450.0,224.8 451.0,230.5 452.0,234.0 C453.0,237.5 453.8,240.8 455.0,243.0 C456.2,245.2 457.5,246.1 459.0,247.5 C460.5,248.9 462.3,250.4 464.0,251.5 C465.7,252.6 467.3,253.3 469.0,254.0 C470.7,254.7 472.3,255.2 474.0,255.5 C475.7,255.8 477.3,256.2 479.0,256.0 C480.7,255.8 482.5,255.3 484.0,254.5 C485.5,253.7 486.7,252.3 488.0,251.0 C489.3,249.7 490.7,247.5 492.0,246.5 C493.3,245.5 494.7,244.8 496.0,245.0 C497.3,245.2 498.7,246.2 500.0,247.5 C501.3,248.8 502.7,250.9 504.0,253.0 C505.3,255.1 506.6,257.0 508.0,260.0 C509.4,263.0 511.8,269.2 512.5,271.0" stroke="#f21620"/>
</g>
<rect x="309.2" y="188.0" width="203.8" height="131.8" fill="none" stroke="#333" stroke-width="0.8"/>
<path d="M337.0,319.8 v-2.2 M337.0,188.0 v2.2 M384.0,319.8 v-2.2 M384.0,188.0 v2.2 M431.0,319.8 v-2.2 M431.0,188.0 v2.2 M478.0,319.8 v-2.2 M478.0,188.0 v2.2 M309.2,319.8 h2.2 M513.0,319.8 h-2.2 M309.2,286.9 h2.2 M513.0,286.9 h-2.2 M309.2,253.9 h2.2 M513.0,253.9 h-2.2 M309.2,220.9 h2.2 M513.0,220.9 h-2.2 M309.2,188.0 h2.2 M513.0,188.0 h-2.2 " stroke="#333" stroke-width="0.7" fill="none"/>
<text class="tk" x="337.5" y="332.5" text-anchor="middle">18.5</text>
<text class="tk" x="384.5" y="332.5" text-anchor="middle">19</text>
<text class="tk" x="431.5" y="332.5" text-anchor="middle">19.5</text>
<text class="tk" x="478.5" y="332.5" text-anchor="middle">20</text>
<text class="tk" x="306.5" y="323.9" text-anchor="end">0</text>
<text class="tk" x="306.5" y="291.0" text-anchor="end">500</text>
<text class="tk" x="306.5" y="258.0" text-anchor="end">1000</text>
<text class="tk" x="306.5" y="225.0" text-anchor="end">1500</text>
<text class="tk" x="306.5" y="192.1" text-anchor="end">2000</text>
<text class="ax" x="401.5" y="346.5" text-anchor="middle" textLength="101" lengthAdjust="spacingAndGlyphs">Hg-bar length (mm)</text>
<text class="ax" transform="translate(277.6,253.3) rotate(-90)" text-anchor="middle" style="font-size:12px" textLength="41" lengthAdjust="spacingAndGlyphs">Q-factor</text>
<rect x="462.1" y="280.4" width="43.9" height="34.2" fill="#fff" stroke="#333" stroke-width="0.7"/>
<line x1="464" y1="290" x2="481.7" y2="290" stroke="#0d72c4" stroke-width="1.5"/>
<line x1="464" y1="305" x2="481.7" y2="305" stroke="#f21620" stroke-width="1.5"/>
<text x="487" y="292.6" class="it" style="font-size:15px;fill:#111">f<tspan style="font-size:10.5px;font-style:normal" dy="3.2" dx="0.5">2</tspan></text>
<text x="487" y="308.6" class="it" style="font-size:15px;fill:#111">f<tspan style="font-size:10.5px;font-style:normal" dy="3.2" dx="0.5">1</tspan></text>
<text class="cap" x="404" y="358.5" text-anchor="middle">(d)</text>
</g>
<g id="panel-e">
<defs><linearGradient id="hm" gradientUnits="userSpaceOnUse" x1="0" y1="-160" x2="0" y2="160">
<stop offset="0.0000" stop-color="#f7fa0c"/><stop offset="0.3438" stop-color="#f8f90d"/><stop offset="0.3906" stop-color="#f9f70e"/><stop offset="0.4188" stop-color="#fbf310"/><stop offset="0.4375" stop-color="#fdec13"/><stop offset="0.4500" stop-color="#ffdf17"/><stop offset="0.4594" stop-color="#ffca24"/><stop offset="0.4656" stop-color="#ffb732"/><stop offset="0.4703" stop-color="#fea93c"/><stop offset="0.4744" stop-color="#fba044"/><stop offset="0.4781" stop-color="#d5b03e"/><stop offset="0.4813" stop-color="#82c33f"/><stop offset="0.4844" stop-color="#42c35e"/><stop offset="0.4875" stop-color="#2abe7a"/><stop offset="0.4903" stop-color="#1eb695"/><stop offset="0.4928" stop-color="#17aeac"/><stop offset="0.4950" stop-color="#12a4c4"/><stop offset="0.4969" stop-color="#1092dd"/><stop offset="0.4984" stop-color="#1486e9"/><stop offset="0.5000" stop-color="#1681ed"/><stop offset="0.5016" stop-color="#1486e9"/><stop offset="0.5031" stop-color="#1191df"/><stop offset="0.5050" stop-color="#12a1c9"/><stop offset="0.5072" stop-color="#16abb3"/><stop offset="0.5097" stop-color="#1cb49b"/><stop offset="0.5125" stop-color="#26bc83"/><stop offset="0.5156" stop-color="#37c269"/><stop offset="0.5188" stop-color="#62c44c"/><stop offset="0.5219" stop-color="#a8be3a"/><stop offset="0.5250" stop-color="#e0ac40"/><stop offset="0.5297" stop-color="#f8a144"/><stop offset="0.5375" stop-color="#fda73e"/><stop offset="0.5469" stop-color="#ffb136"/><stop offset="0.5594" stop-color="#ffbe2d"/><stop offset="0.5750" stop-color="#ffc925"/><stop offset="0.6000" stop-color="#ffd21e"/><stop offset="0.6406" stop-color="#ffda19"/><stop offset="0.7031" stop-color="#fee116"/><stop offset="0.8125" stop-color="#fee714"/><stop offset="1.0000" stop-color="#fdec13"/></linearGradient>
<linearGradient id="cbar" x1="0" y1="0" x2="0" y2="1"><stop offset="0.0000" stop-color="#f7fb0c"/><stop offset="0.0592" stop-color="#fdef12"/><stop offset="0.1036" stop-color="#ffdc18"/><stop offset="0.1479" stop-color="#ffc428"/><stop offset="0.1923" stop-color="#ffac3a"/><stop offset="0.2308" stop-color="#fba044"/><stop offset="0.2604" stop-color="#e0ac40"/><stop offset="0.2840" stop-color="#b4bc38"/><stop offset="0.3107" stop-color="#7cc440"/><stop offset="0.3402" stop-color="#48c458"/><stop offset="0.3846" stop-color="#2cc074"/><stop offset="0.4290" stop-color="#20b890"/><stop offset="0.4734" stop-color="#18b0a8"/><stop offset="0.5325" stop-color="#12a4c4"/><stop offset="0.5917" stop-color="#1094dc"/><stop offset="0.6657" stop-color="#1680ee"/><stop offset="0.7396" stop-color="#2270f2"/><stop offset="0.7988" stop-color="#2c5cf0"/><stop offset="0.8580" stop-color="#3a48ea"/><stop offset="0.9172" stop-color="#4636d8"/><stop offset="0.9615" stop-color="#4c28bc"/><stop offset="1.0000" stop-color="#4e1f9e"/></linearGradient>
<clipPath id="clipe"><rect x="43.0" y="363.4" width="168.5" height="139.8"/></clipPath></defs>
<g clip-path="url(#clipe)">
<rect x="43.0" y="-160" width="1.6" height="320" fill="url(#hm)" transform="translate(0,392.0)"/><rect x="44.0" y="-160" width="1.6" height="320" fill="url(#hm)" transform="translate(0,392.5)"/><rect x="45.0" y="-160" width="1.6" height="320" fill="url(#hm)" transform="translate(0,393.0)"/><rect x="46.0" y="-160" width="1.6" height="320" fill="url(#hm)" transform="translate(0,393.5)"/><rect x="47.0" y="-160" width="1.6" height="320" fill="url(#hm)" transform="translate(0,394.0)"/><rect x="48.0" y="-160" width="1.6" height="320" fill="url(#hm)" transform="translate(0,394.5)"/><rect x="49.0" y="-160" width="1.6" height="320" fill="url(#hm)" transform="translate(0,395.0)"/><rect x="50.0" y="-160" width="1.6" height="320" fill="url(#hm)" transform="translate(0,395.5)"/><rect x="51.0" y="-160" width="1.6" height="320" fill="url(#hm)" transform="translate(0,396.0)"/><rect x="52.0" y="-160" width="1.6" height="320" fill="url(#hm)" transform="translate(0,396.5)"/><rect x="53.0" y="-160" width="1.6" height="320" fill="url(#hm)" transform="translate(0,397.0)"/><rect x="54.0" y="-160" width="1.6" height="320" fill="url(#hm)" transform="translate(0,397.5)"/><rect x="55.0" y="-160" width="1.6" height="320" fill="url(#hm)" transform="translate(0,397.9)"/><rect x="56.0" y="-160" width="1.6" height="320" fill="url(#hm)" transform="translate(0,398.4)"/><rect x="57.0" y="-160" width="1.6" height="320" fill="url(#hm)" transform="translate(0,398.9)"/><rect x="58.0" y="-160" width="1.6" height="320" fill="url(#hm)" transform="translate(0,399.4)"/><rect x="59.0" y="-160" width="1.6" height="320" fill="url(#hm)" transform="translate(0,399.9)"/><rect x="60.0" y="-160" width="1.6" height="320" fill="url(#hm)" transform="translate(0,400.4)"/><rect x="61.0" y="-160" width="1.6" height="320" fill="url(#hm)" transform="translate(0,400.8)"/><rect x="62.0" y="-160" width="1.6" height="320" fill="url(#hm)" transform="translate(0,401.2)"/><rect x="63.0" y="-160" width="1.6" height="320" fill="url(#hm)" transform="translate(0,401.7)"/><rect x="64.0" y="-160" width="1.6" height="320" fill="url(#hm)" transform="translate(0,402.1)"/><rect x="65.0" y="-160" width="1.6" height="320" fill="url(#hm)" transform="translate(0,404.0)"/><rect x="66.0" y="-160" width="1.6" height="320" fill="url(#hm)" transform="translate(0,404.2)"/><rect x="67.0" y="-160" width="1.6" height="320" fill="url(#hm)" transform="translate(0,404.5)"/><rect x="68.0" y="-160" width="1.6" height="320" fill="url(#hm)" transform="translate(0,404.9)"/><rect x="69.0" y="-160" width="1.6" height="320" fill="url(#hm)" transform="translate(0,405.3)"/><rect x="70.0" y="-160" width="1.6" height="320" fill="url(#hm)" transform="translate(0,405.6)"/><rect x="71.0" y="-160" width="1.6" height="320" fill="url(#hm)" transform="translate(0,406.0)"/><rect x="72.0" y="-160" width="1.6" height="320" fill="url(#hm)" transform="translate(0,406.4)"/><rect x="73.0" y="-160" width="1.6" height="320" fill="url(#hm)" transform="translate(0,406.8)"/><rect x="74.0" y="-160" width="1.6" height="320" fill="url(#hm)" transform="translate(0,407.2)"/><rect x="75.0" y="-160" width="1.6" height="320" fill="url(#hm)" transform="translate(0,408.8)"/><rect x="76.0" y="-160" width="1.6" height="320" fill="url(#hm)" transform="translate(0,409.1)"/><rect x="77.0" y="-160" width="1.6" height="320" fill="url(#hm)" transform="translate(0,409.4)"/><rect x="78.0" y="-160" width="1.6" height="320" fill="url(#hm)" transform="translate(0,409.8)"/><rect x="79.0" y="-160" width="1.6" height="320" fill="url(#hm)" transform="translate(0,410.2)"/><rect x="80.0" y="-160" width="1.6" height="320" fill="url(#hm)" transform="translate(0,410.6)"/><rect x="81.0" y="-160" width="1.6" height="320" fill="url(#hm)" transform="translate(0,411.0)"/><rect x="82.0" y="-160" width="1.6" height="320" fill="url(#hm)" transform="translate(0,411.5)"/><rect x="83.0" y="-160" width="1.6" height="320" fill="url(#hm)" transform="translate(0,411.9)"/><rect x="84.0" y="-160" width="1.6" height="320" fill="url(#hm)" transform="translate(0,412.4)"/><rect x="85.0" y="-160" width="1.6" height="320" fill="url(#hm)" transform="translate(0,412.9)"/><rect x="86.0" y="-160" width="1.6" height="320" fill="url(#hm)" transform="translate(0,413.4)"/><rect x="87.0" y="-160" width="1.6" height="320" fill="url(#hm)" transform="translate(0,413.8)"/><rect x="88.0" y="-160" width="1.6" height="320" fill="url(#hm)" transform="translate(0,414.3)"/><rect x="89.0" y="-160" width="1.6" height="320" fill="url(#hm)" transform="translate(0,414.8)"/><rect x="90.0" y="-160" width="1.6" height="320" fill="url(#hm)" transform="translate(0,415.3)"/><rect x="91.0" y="-160" width="1.6" height="320" fill="url(#hm)" transform="translate(0,415.8)"/><rect x="92.0" y="-160" width="1.6" height="320" fill="url(#hm)" transform="translate(0,416.3)"/><rect x="93.0" y="-160" width="1.6" height="320" fill="url(#hm)" transform="translate(0,416.8)"/><rect x="94.0" y="-160" width="1.6" height="320" fill="url(#hm)" transform="translate(0,417.3)"/><rect x="95.0" y="-160" width="1.6" height="320" fill="url(#hm)" transform="translate(0,417.8)"/><rect x="96.0" y="-160" width="1.6" height="320" fill="url(#hm)" transform="translate(0,418.3)"/><rect x="97.0" y="-160" width="1.6" height="320" fill="url(#hm)" transform="translate(0,418.8)"/><rect x="98.0" y="-160" width="1.6" height="320" fill="url(#hm)" transform="translate(0,419.3)"/><rect x="99.0" y="-160" width="1.6" height="320" fill="url(#hm)" transform="translate(0,419.8)"/><rect x="100.0" y="-160" width="1.6" height="320" fill="url(#hm)" transform="translate(0,420.2)"/><rect x="101.0" y="-160" width="1.6" height="320" fill="url(#hm)" transform="translate(0,420.6)"/><rect x="102.0" y="-160" width="1.6" height="320" fill="url(#hm)" transform="translate(0,421.0)"/><rect x="103.0" y="-160" width="1.6" height="320" fill="url(#hm)" transform="translate(0,421.4)"/><rect x="104.0" y="-160" width="1.6" height="320" fill="url(#hm)" transform="translate(0,421.8)"/><rect x="105.0" y="-160" width="1.6" height="320" fill="url(#hm)" transform="translate(0,424.1)"/><rect x="106.0" y="-160" width="1.6" height="320" fill="url(#hm)" transform="translate(0,424.3)"/><rect x="107.0" y="-160" width="1.6" height="320" fill="url(#hm)" transform="translate(0,424.6)"/><rect x="108.0" y="-160" width="1.6" height="320" fill="url(#hm)" transform="translate(0,424.9)"/><rect x="109.0" y="-160" width="1.6" height="320" fill="url(#hm)" transform="translate(0,425.3)"/><rect x="110.0" y="-160" width="1.6" height="320" fill="url(#hm)" transform="translate(0,425.7)"/><rect x="111.0" y="-160" width="1.6" height="320" fill="url(#hm)" transform="translate(0,426.1)"/><rect x="112.0" y="-160" width="1.6" height="320" fill="url(#hm)" transform="translate(0,426.5)"/><rect x="113.0" y="-160" width="1.6" height="320" fill="url(#hm)" transform="translate(0,426.9)"/><rect x="114.0" y="-160" width="1.6" height="320" fill="url(#hm)" transform="translate(0,427.4)"/><rect x="115.0" y="-160" width="1.6" height="320" fill="url(#hm)" transform="translate(0,427.8)"/><rect x="116.0" y="-160" width="1.6" height="320" fill="url(#hm)" transform="translate(0,428.3)"/><rect x="117.0" y="-160" width="1.6" height="320" fill="url(#hm)" transform="translate(0,428.8)"/><rect x="118.0" y="-160" width="1.6" height="320" fill="url(#hm)" transform="translate(0,429.2)"/><rect x="119.0" y="-160" width="1.6" height="320" fill="url(#hm)" transform="translate(0,429.7)"/><rect x="120.0" y="-160" width="1.6" height="320" fill="url(#hm)" transform="translate(0,430.2)"/><rect x="121.0" y="-160" width="1.6" height="320" fill="url(#hm)" transform="translate(0,430.7)"/><rect x="122.0" y="-160" width="1.6" height="320" fill="url(#hm)" transform="translate(0,431.2)"/><rect x="123.0" y="-160" width="1.6" height="320" fill="url(#hm)" transform="translate(0,431.7)"/><rect x="124.0" y="-160" width="1.6" height="320" fill="url(#hm)" transform="translate(0,432.2)"/><rect x="125.0" y="-160" width="1.6" height="320" fill="url(#hm)" transform="translate(0,432.7)"/><rect x="126.0" y="-160" width="1.6" height="320" fill="url(#hm)" transform="translate(0,433.1)"/><rect x="127.0" y="-160" width="1.6" height="320" fill="url(#hm)" transform="translate(0,433.6)"/><rect x="128.0" y="-160" width="1.6" height="320" fill="url(#hm)" transform="translate(0,434.1)"/><rect x="129.0" y="-160" width="1.6" height="320" fill="url(#hm)" transform="translate(0,434.6)"/><rect x="130.0" y="-160" width="1.6" height="320" fill="url(#hm)" transform="translate(0,435.1)"/><rect x="131.0" y="-160" width="1.6" height="320" fill="url(#hm)" transform="translate(0,435.6)"/><rect x="132.0" y="-160" width="1.6" height="320" fill="url(#hm)" transform="translate(0,436.0)"/><rect x="133.0" y="-160" width="1.6" height="320" fill="url(#hm)" transform="translate(0,436.5)"/><rect x="134.0" y="-160" width="1.6" height="320" fill="url(#hm)" transform="translate(0,436.9)"/><rect x="135.0" y="-160" width="1.6" height="320" fill="url(#hm)" transform="translate(0,437.4)"/><rect x="136.0" y="-160" width="1.6" height="320" fill="url(#hm)" transform="translate(0,437.8)"/><rect x="137.0" y="-160" width="1.6" height="320" fill="url(#hm)" transform="translate(0,439.6)"/><rect x="138.0" y="-160" width="1.6" height="320" fill="url(#hm)" transform="translate(0,439.9)"/><rect x="139.0" y="-160" width="1.6" height="320" fill="url(#hm)" transform="translate(0,440.2)"/><rect x="140.0" y="-160" width="1.6" height="320" fill="url(#hm)" transform="translate(0,440.5)"/><rect x="141.0" y="-160" width="1.6" height="320" fill="url(#hm)" transform="translate(0,440.9)"/><rect x="142.0" y="-160" width="1.6" height="320" fill="url(#hm)" transform="translate(0,441.4)"/><rect x="143.0" y="-160" width="1.6" height="320" fill="url(#hm)" transform="translate(0,441.8)"/><rect x="144.0" y="-160" width="1.6" height="320" fill="url(#hm)" transform="translate(0,442.2)"/><rect x="145.0" y="-160" width="1.6" height="320" fill="url(#hm)" transform="translate(0,442.7)"/><rect x="146.0" y="-160" width="1.6" height="320" fill="url(#hm)" transform="translate(0,443.2)"/><rect x="147.0" y="-160" width="1.6" height="320" fill="url(#hm)" transform="translate(0,443.6)"/><rect x="148.0" y="-160" width="1.6" height="320" fill="url(#hm)" transform="translate(0,444.0)"/><rect x="149.0" y="-160" width="1.6" height="320" fill="url(#hm)" transform="translate(0,444.3)"/><rect x="150.0" y="-160" width="1.6" height="320" fill="url(#hm)" transform="translate(0,444.6)"/><rect x="151.0" y="-160" width="1.6" height="320" fill="url(#hm)" transform="translate(0,445.0)"/><rect x="152.0" y="-160" width="1.6" height="320" fill="url(#hm)" transform="translate(0,445.3)"/><rect x="153.0" y="-160" width="1.6" height="320" fill="url(#hm)" transform="translate(0,448.9)"/><rect x="154.0" y="-160" width="1.6" height="320" fill="url(#hm)" transform="translate(0,449.0)"/><rect x="155.0" y="-160" width="1.6" height="320" fill="url(#hm)" transform="translate(0,449.2)"/><rect x="156.0" y="-160" width="1.6" height="320" fill="url(#hm)" transform="translate(0,449.4)"/><rect x="157.0" y="-160" width="1.6" height="320" fill="url(#hm)" transform="translate(0,449.7)"/><rect x="158.0" y="-160" width="1.6" height="320" fill="url(#hm)" transform="translate(0,450.0)"/><rect x="159.0" y="-160" width="1.6" height="320" fill="url(#hm)" transform="translate(0,450.3)"/><rect x="160.0" y="-160" width="1.6" height="320" fill="url(#hm)" transform="translate(0,450.6)"/><rect x="161.0" y="-160" width="1.6" height="320" fill="url(#hm)" transform="translate(0,451.0)"/><rect x="162.0" y="-160" width="1.6" height="320" fill="url(#hm)" transform="translate(0,451.4)"/><rect x="163.0" y="-160" width="1.6" height="320" fill="url(#hm)" transform="translate(0,451.9)"/><rect x="164.0" y="-160" width="1.6" height="320" fill="url(#hm)" transform="translate(0,452.3)"/><rect x="165.0" y="-160" width="1.6" height="320" fill="url(#hm)" transform="translate(0,452.7)"/><rect x="166.0" y="-160" width="1.6" height="320" fill="url(#hm)" transform="translate(0,453.2)"/><rect x="167.0" y="-160" width="1.6" height="320" fill="url(#hm)" transform="translate(0,453.6)"/><rect x="168.0" y="-160" width="1.6" height="320" fill="url(#hm)" transform="translate(0,454.1)"/><rect x="169.0" y="-160" width="1.6" height="320" fill="url(#hm)" transform="translate(0,454.6)"/><rect x="170.0" y="-160" width="1.6" height="320" fill="url(#hm)" transform="translate(0,455.0)"/><rect x="171.0" y="-160" width="1.6" height="320" fill="url(#hm)" transform="translate(0,455.4)"/><rect x="172.0" y="-160" width="1.6" height="320" fill="url(#hm)" transform="translate(0,455.8)"/><rect x="173.0" y="-160" width="1.6" height="320" fill="url(#hm)" transform="translate(0,456.2)"/><rect x="174.0" y="-160" width="1.6" height="320" fill="url(#hm)" transform="translate(0,456.6)"/><rect x="175.0" y="-160" width="1.6" height="320" fill="url(#hm)" transform="translate(0,458.6)"/><rect x="176.0" y="-160" width="1.6" height="320" fill="url(#hm)" transform="translate(0,458.8)"/><rect x="177.0" y="-160" width="1.6" height="320" fill="url(#hm)" transform="translate(0,459.1)"/><rect x="178.0" y="-160" width="1.6" height="320" fill="url(#hm)" transform="translate(0,459.5)"/><rect x="179.0" y="-160" width="1.6" height="320" fill="url(#hm)" transform="translate(0,459.8)"/><rect x="180.0" y="-160" width="1.6" height="320" fill="url(#hm)" transform="translate(0,460.2)"/><rect x="181.0" y="-160" width="1.6" height="320" fill="url(#hm)" transform="translate(0,460.7)"/><rect x="182.0" y="-160" width="1.6" height="320" fill="url(#hm)" transform="translate(0,461.1)"/><rect x="183.0" y="-160" width="1.6" height="320" fill="url(#hm)" transform="translate(0,461.5)"/><rect x="184.0" y="-160" width="1.6" height="320" fill="url(#hm)" transform="translate(0,462.0)"/><rect x="185.0" y="-160" width="1.6" height="320" fill="url(#hm)" transform="translate(0,462.5)"/><rect x="186.0" y="-160" width="1.6" height="320" fill="url(#hm)" transform="translate(0,462.9)"/><rect x="187.0" y="-160" width="1.6" height="320" fill="url(#hm)" transform="translate(0,463.4)"/><rect x="188.0" y="-160" width="1.6" height="320" fill="url(#hm)" transform="translate(0,463.9)"/><rect x="189.0" y="-160" width="1.6" height="320" fill="url(#hm)" transform="translate(0,464.4)"/><rect x="190.0" y="-160" width="1.6" height="320" fill="url(#hm)" transform="translate(0,464.9)"/><rect x="191.0" y="-160" width="1.6" height="320" fill="url(#hm)" transform="translate(0,465.4)"/><rect x="192.0" y="-160" width="1.6" height="320" fill="url(#hm)" transform="translate(0,465.9)"/><rect x="193.0" y="-160" width="1.6" height="320" fill="url(#hm)" transform="translate(0,466.3)"/><rect x="194.0" y="-160" width="1.6" height="320" fill="url(#hm)" transform="translate(0,466.8)"/><rect x="195.0" y="-160" width="1.6" height="320" fill="url(#hm)" transform="translate(0,467.3)"/><rect x="196.0" y="-160" width="1.6" height="320" fill="url(#hm)" transform="translate(0,467.7)"/><rect x="197.0" y="-160" width="1.6" height="320" fill="url(#hm)" transform="translate(0,468.1)"/><rect x="198.0" y="-160" width="1.6" height="320" fill="url(#hm)" transform="translate(0,468.5)"/><rect x="199.0" y="-160" width="1.6" height="320" fill="url(#hm)" transform="translate(0,468.9)"/><rect x="200.0" y="-160" width="1.6" height="320" fill="url(#hm)" transform="translate(0,471.1)"/><rect x="201.0" y="-160" width="1.6" height="320" fill="url(#hm)" transform="translate(0,471.3)"/><rect x="202.0" y="-160" width="1.6" height="320" fill="url(#hm)" transform="translate(0,471.6)"/><rect x="203.0" y="-160" width="1.6" height="320" fill="url(#hm)" transform="translate(0,472.0)"/><rect x="204.0" y="-160" width="1.6" height="320" fill="url(#hm)" transform="translate(0,472.3)"/><rect x="205.0" y="-160" width="1.6" height="320" fill="url(#hm)" transform="translate(0,472.7)"/><rect x="206.0" y="-160" width="1.6" height="320" fill="url(#hm)" transform="translate(0,473.1)"/><rect x="207.0" y="-160" width="1.6" height="320" fill="url(#hm)" transform="translate(0,473.5)"/><rect x="208.0" y="-160" width="1.6" height="320" fill="url(#hm)" transform="translate(0,474.0)"/><rect x="209.0" y="-160" width="1.6" height="320" fill="url(#hm)" transform="translate(0,474.4)"/><rect x="210.0" y="-160" width="1.6" height="320" fill="url(#hm)" transform="translate(0,474.9)"/><rect x="211.0" y="-160" width="1.6" height="320" fill="url(#hm)" transform="translate(0,475.4)"/>
</g>
<line x1="152.3" y1="428" x2="152.3" y2="494" stroke="#f0b070" stroke-width="0.8" opacity="0.75" clip-path="url(#clipe)"/>
<line x1="154.2" y1="425" x2="154.2" y2="448" stroke="#ffe860" stroke-width="0.8" opacity="0.8"/>
<line x1="65.3" y1="391" x2="65.3" y2="415" stroke="#ffe488" stroke-width="0.8" opacity="0.35" clip-path="url(#clipe)"/>
<line x1="75.3" y1="396" x2="75.3" y2="420" stroke="#ffe488" stroke-width="0.8" opacity="0.3" clip-path="url(#clipe)"/>
<line x1="105.3" y1="407" x2="105.3" y2="439" stroke="#ffe488" stroke-width="0.8" opacity="0.45" clip-path="url(#clipe)"/>
<line x1="137.3" y1="425.5" x2="137.3" y2="451.5" stroke="#ffe488" stroke-width="0.8" opacity="0.35" clip-path="url(#clipe)"/>
<line x1="175.3" y1="444" x2="175.3" y2="472" stroke="#ffe488" stroke-width="0.8" opacity="0.4" clip-path="url(#clipe)"/>
<line x1="200.3" y1="457" x2="200.3" y2="483" stroke="#ffe488" stroke-width="0.8" opacity="0.35" clip-path="url(#clipe)"/>
<rect x="215.3" y="363.4" width="13.7" height="139.8" fill="url(#cbar)" stroke="#444" stroke-width="0.6"/>
<path d="M229,384.1 h-2.2 M215.3,384.1 h2.2 M229,404.8 h-2.2 M215.3,404.8 h2.2 M229,425.4 h-2.2 M215.3,425.4 h2.2 M229,446.1 h-2.2 M215.3,446.1 h2.2 M229,466.8 h-2.2 M215.3,466.8 h2.2 M229,487.5 h-2.2 M215.3,487.5 h2.2 " stroke="#333" stroke-width="0.6" fill="none"/>
<text class="tk" x="230" y="388.2">−5</text>
<text class="tk" x="230" y="408.9">−10</text>
<text class="tk" x="230" y="429.5">−15</text>
<text class="tk" x="230" y="450.2">−20</text>
<text class="tk" x="230" y="470.9">−25</text>
<text class="tk" x="230" y="491.6">−30</text>
<text class="ax" transform="translate(254.6,438.3) rotate(-90)" text-anchor="middle" style="font-size:13px;letter-spacing:0.3px">|<tspan class="it">S</tspan><tspan style="font-size:7.5px" dy="1.5">21</tspan><tspan dy="-1.5">| (dB)</tspan></text>
<text class="tk" x="61.2" y="515.5" text-anchor="middle">18.5</text>
<text class="tk" x="103.7" y="515.5" text-anchor="middle">19</text>
<text class="tk" x="146.2" y="515.5" text-anchor="middle">19.5</text>
<text class="tk" x="188.7" y="515.5" text-anchor="middle">20</text>
<text class="tk" x="41" y="507.1" text-anchor="end">3.1</text>
<text class="tk" x="41" y="466.4" text-anchor="end">3.2</text>
<text class="tk" x="41" y="425.7" text-anchor="end">3.3</text>
<text class="tk" x="41" y="385.0" text-anchor="end">3.4</text>
<text class="ax" x="136" y="530" text-anchor="middle" textLength="102" lengthAdjust="spacingAndGlyphs">Hg-bar length (mm)</text>
<text class="ax" transform="translate(24.3,448) rotate(-90)" text-anchor="middle" textLength="93" lengthAdjust="spacingAndGlyphs">Frequency (GHz)</text>
<text class="cap" x="127" y="541.8" text-anchor="middle">(e)</text>
</g>
<g id="panel-f">
<clipPath id="clipf"><rect x="299.0" y="365.5" width="185.3" height="136.7"/></clipPath>
<g clip-path="url(#clipf)" fill="none" stroke-linejoin="round">
<path d="M298.0,436.0 C298.5,436.3 300.0,437.5 301.0,438.0 C302.0,438.5 302.8,438.8 304.0,438.8 C305.2,438.8 306.7,438.3 308.0,438.0 C309.3,437.7 310.5,437.0 312.0,436.8 C313.5,436.5 315.3,436.5 317.0,436.2 C318.7,436.0 320.3,436.0 322.0,435.5 C323.7,435.0 325.3,434.2 327.0,433.5 C328.7,432.8 330.3,431.7 332.0,431.0 C333.7,430.3 335.5,429.6 337.0,429.2 C338.5,428.9 339.7,428.9 341.0,429.0 C342.3,429.1 343.7,429.6 345.0,430.0 C346.3,430.4 347.7,431.1 349.0,431.2 C350.3,431.4 351.7,431.2 353.0,430.8 C354.3,430.3 355.8,429.1 357.0,428.5 C358.2,427.9 359.4,427.2 360.5,427.0 C361.6,426.8 362.5,426.8 363.5,427.2 C364.5,427.7 365.5,428.2 366.5,429.5 C367.5,430.8 368.5,433.3 369.5,435.0 C370.5,436.7 371.6,438.7 372.5,439.5 C373.4,440.3 374.1,440.3 375.0,440.0 C375.9,439.7 376.8,438.3 378.0,437.5 C379.2,436.7 380.5,435.8 382.0,435.0 C383.5,434.2 385.3,433.5 387.0,433.0 C388.7,432.5 390.3,431.9 392.0,431.8 C393.7,431.6 395.3,432.0 397.0,432.2 C398.7,432.5 400.2,433.2 402.0,433.5 C403.8,433.8 406.0,434.2 408.0,434.2 C410.0,434.2 412.2,434.0 414.0,433.5 C415.8,433.0 417.3,432.3 419.0,431.5 C420.7,430.7 422.4,429.5 424.0,428.8 C425.6,428.0 427.1,427.1 428.5,426.8 C429.9,426.4 431.2,426.3 432.5,426.5 C433.8,426.7 435.2,427.2 436.5,428.0 C437.8,428.8 439.2,430.2 440.5,431.5 C441.8,432.8 443.2,434.5 444.5,435.5 C445.8,436.5 447.2,437.5 448.5,437.8 C449.8,438.0 451.1,437.6 452.5,437.0 C453.9,436.4 455.5,435.2 457.0,434.2 C458.5,433.3 460.1,432.0 461.5,431.2 C462.9,430.5 464.2,430.0 465.5,430.0 C466.8,430.0 468.2,430.2 469.5,431.0 C470.8,431.8 472.2,433.4 473.5,435.0 C474.8,436.6 476.2,438.6 477.5,440.5 C478.8,442.4 479.8,444.3 481.0,446.5 C482.2,448.7 483.9,452.3 484.5,453.5" stroke="#0d72c4" stroke-width="1.5"/>
<path d="M298.5,408.3 L300.0,409.2 L301.5,409.6 L303.0,410.5 L304.5,412.6 L306.0,411.1 L307.5,411.6 L309.0,413.1 L310.5,413.1 L312.0,413.7 L313.5,415.1 L315.0,415.1 L316.5,416.1 L318.0,417.8 L319.5,417.1 L321.0,417.1 L322.5,418.3 L324.0,419.1 L325.5,419.3 L327.0,420.2 L328.5,420.7 L330.0,420.6 L331.5,423.5 L333.0,422.4 L334.5,422.7 L336.0,423.0 L337.5,424.5 L339.0,424.6 L340.5,425.5 L342.0,426.3 L343.5,426.7 L345.0,429.0 L346.5,427.5 L348.0,428.6 L349.5,428.8 L351.0,429.9 L352.5,430.4 L354.0,430.2 L355.5,430.8 L357.0,431.5 L358.5,434.4 L360.0,432.9 L361.5,433.7 L363.0,434.0 L364.5,434.8 L366.0,435.3 L367.5,435.8 L369.0,436.7 L370.5,437.3 L372.0,439.7 L373.5,438.6 L375.0,439.4 L376.5,439.9 L378.0,440.7 L379.5,440.9 L381.0,441.0 L382.5,442.3 L384.0,443.0 L385.5,445.1 L387.0,443.8 L388.5,444.6 L390.0,444.6 L391.5,445.9 L393.0,446.2 L394.5,446.5 L396.0,446.9 L397.5,448.3 L399.0,450.6 L400.5,448.7 L402.0,450.1 L403.5,450.3 L405.0,450.6 L406.5,451.4 L408.0,452.5 L409.5,453.3 L411.0,453.0 L412.5,455.7 L414.0,454.3 L415.5,455.6 L417.0,455.8 L418.5,457.0 L420.0,457.8 L421.5,457.9 L423.0,459.1 L424.5,459.0 L426.0,460.9 L427.5,460.5 L429.0,460.6 L430.5,461.4 L432.0,462.2 L433.5,463.1 L435.0,463.3 L436.5,463.8 L438.0,465.3 L439.5,466.8 L441.0,466.7 L442.5,467.2 L444.0,467.3 L445.5,468.1 L447.0,468.8 L448.5,469.5 L450.0,470.1 L451.5,470.7 L453.0,472.9 L454.5,472.4 L456.0,472.6 L457.5,473.2 L459.0,474.1 L460.5,474.3 L462.0,475.0 L463.5,476.4 L465.0,476.5 L466.5,478.7 L468.0,477.3 L469.5,478.4 L471.0,479.2 L472.5,479.2 L474.0,480.5 L475.5,481.2 L477.0,481.2 L478.5,482.5 L480.0,484.5 L481.5,483.9 L483.0,484.2 L484.5,485.2" stroke="#f21620" stroke-width="1.6"/>
<path d="M420.2,456.5 L420.9,479.5 L421.8,458 M424.5,459 L425.3,466 L426.5,460.5 M366.5,435.8 l0.8,4 l1,-3.4 M370.5,437.5 l0.8,3.4 l1,-2.9 M450,472 l0.8,3 l1,-2.4" stroke="#f21620" stroke-width="1.1" fill="none"/>
<line x1="298.5" y1="408.3" x2="484.5" y2="482.2" stroke="#22e028" stroke-width="1.5" stroke-dasharray="12,3.5"/>
</g>
<rect x="299.0" y="365.5" width="185.3" height="136.7" fill="none" stroke="#333" stroke-width="0.8"/>
<path d="M317.0,502.2 v-2.2 M317.0,365.5 v2.2 M362.1,502.2 v-2.2 M362.1,365.5 v2.2 M407.2,502.2 v-2.2 M407.2,365.5 v2.2 M452.3,502.2 v-2.2 M452.3,365.5 v2.2 M299.0,502.2 h2.2 M484.3,502.2 h-2.2 M299.0,468.0 h2.2 M484.3,468.0 h-2.2 M299.0,433.9 h2.2 M484.3,433.9 h-2.2 M299.0,399.7 h2.2 M484.3,399.7 h-2.2 M299.0,365.5 h2.2 M484.3,365.5 h-2.2 " stroke="#333" stroke-width="0.7" fill="none"/>
<line x1="299.0" y1="399.7" x2="308.5" y2="399.7" stroke="#333" stroke-width="0.8"/>
<text class="tk" x="317.3" y="514.5" text-anchor="middle">18.5</text>
<text class="tk" x="362.4" y="514.5" text-anchor="middle">19</text>
<text class="tk" x="407.5" y="514.5" text-anchor="middle">19.5</text>
<text class="tk" x="452.6" y="514.5" text-anchor="middle">20</text>
<text class="tk" x="297.5" y="506.3" text-anchor="end">3.1</text>
<text class="tk" x="297.5" y="472.1" text-anchor="end">3.2</text>
<text class="tk" x="297.5" y="438.0" text-anchor="end">3.3</text>
<text class="tk" x="297.5" y="403.8" text-anchor="end">3.4</text>
<text class="tk" x="297.5" y="369.6" text-anchor="end">3.5</text>
<text class="tk" x="486.5" y="506.3">0</text>
<text class="tk" x="486.5" y="472.1">500</text>
<text class="tk" x="486.5" y="438.0">1000</text>
<text class="tk" x="486.5" y="403.8">1500</text>
<text class="tk" x="486.5" y="369.6">2000</text>
<text class="ax" x="395.6" y="529.8" text-anchor="middle" textLength="101.5" lengthAdjust="spacingAndGlyphs">Hg-bar length (mm)</text>
<text class="ax" transform="translate(278,432.8) rotate(-90)" text-anchor="middle" textLength="88" lengthAdjust="spacingAndGlyphs">Frequency (GHz)</text>
<text class="ax" transform="translate(518.3,433.6) rotate(-90)" text-anchor="middle" style="font-size:12px">Q-factor</text>
<rect x="365.6" y="372" width="115.2" height="48" fill="#fff" stroke="#333" stroke-width="0.7"/>
<line x1="375.8" y1="379.3" x2="396.8" y2="379.3" stroke="#f21620" stroke-width="1.5"/>
<line x1="375.8" y1="395" x2="396.8" y2="395" stroke="#22e028" stroke-width="1.5" stroke-dasharray="11,5.5"/>
<line x1="375.8" y1="411.3" x2="396.8" y2="411.3" stroke="#0d72c4" stroke-width="1.5"/>
<text x="400" y="383.5" style="font-size:12px;fill:#111" textLength="78" lengthAdjust="spacingAndGlyphs">Resonance shift</text>
<text x="401" y="399.2" style="font-size:12px;fill:#111" textLength="61" lengthAdjust="spacingAndGlyphs">Linear fiting</text>
<text x="401" y="415.5" style="font-size:12px;fill:#111" textLength="41" lengthAdjust="spacingAndGlyphs">Q-factor</text>
<text x="304.5" y="494" style="font-size:11.5px;fill:#222" textLength="61" lengthAdjust="spacingAndGlyphs">FOM=3.26/℃</text>
<text transform="translate(377.5,456.5) rotate(19.5)" class="it" style="font-size:11.5px;fill:#222" textLength="77" lengthAdjust="spacingAndGlyphs">S = 10.45 MHz/℃</text>
<text class="cap" x="403.5" y="542.8" text-anchor="middle">(f)</text>
</g>
</svg>
</body></html>
